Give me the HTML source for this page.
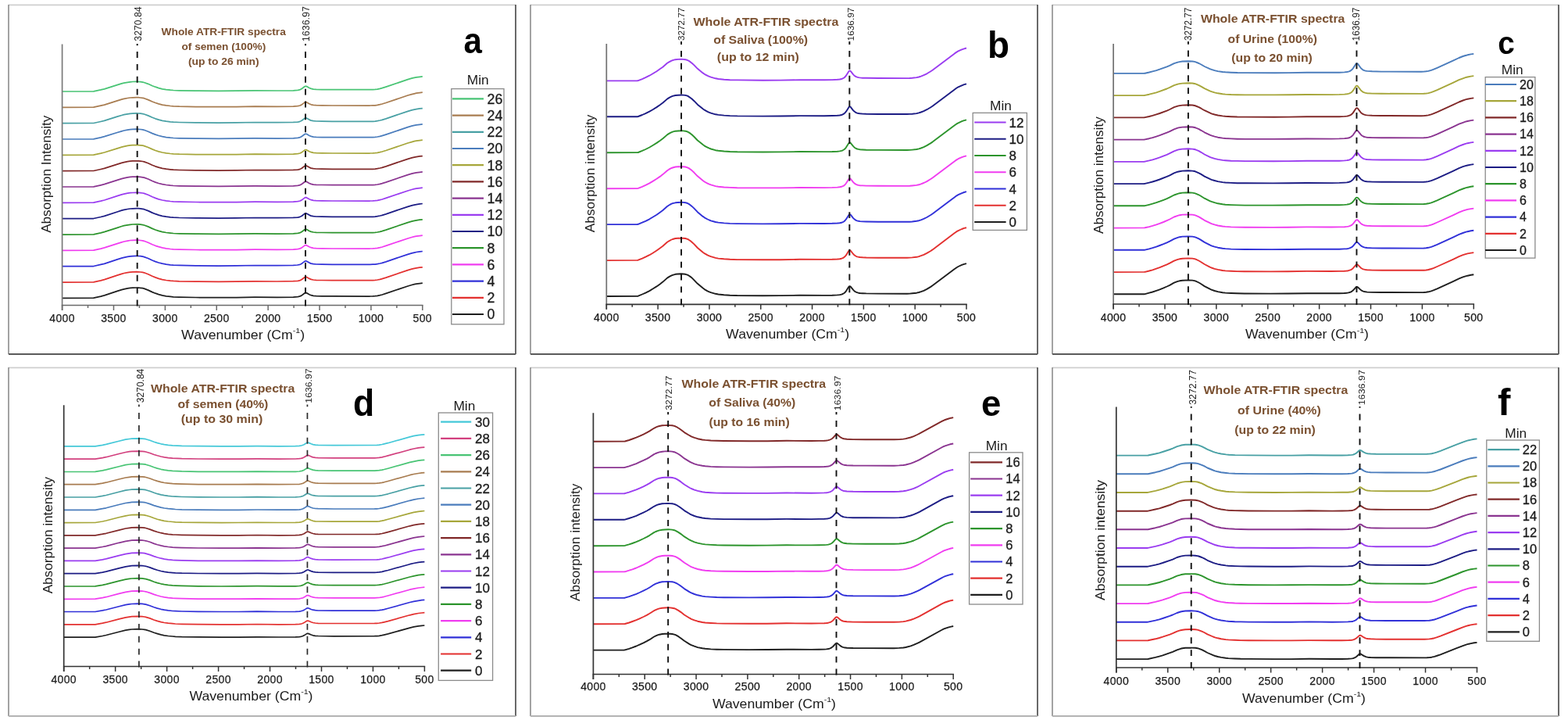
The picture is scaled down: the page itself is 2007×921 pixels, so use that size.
<!DOCTYPE html>
<html><head><meta charset="utf-8"><title>ATR-FTIR spectra</title>
<style>html,body{margin:0;padding:0;background:#fff;}svg{display:block;filter:blur(0.3px);}</style></head>
<body>
<svg width="2007" height="921" viewBox="0 0 2007 921" font-family="&quot;Liberation Sans&quot;, Arial, sans-serif">
<rect width="2007" height="921" fill="#fff"/>
<line x1="11" y1="6.3" x2="660" y2="6.3" stroke="#cfcfcf" stroke-width="1.8"/>
<line x1="11" y1="6" x2="11" y2="453" stroke="#8c8c8c" stroke-width="1.6"/>
<line x1="660" y1="6" x2="660" y2="453" stroke="#585858" stroke-width="1.8"/>
<line x1="11" y1="453" x2="660" y2="453" stroke="#5a5a5a" stroke-width="1.8"/>
<path d="M79.6,381.3 119.8,381.1 129.0,379.1 133.6,377.9 150.1,372.4 155.7,370.6 158.7,369.8 163.3,368.9 166.6,368.4 169.9,368.1 174.8,368.0 177.1,368.0 179.7,368.3 182.7,368.7 184.4,369.1 189.6,371.1 194.9,373.6 198.9,375.2 203.1,376.6 207.7,377.9 212.7,378.8 218.0,379.4 221.9,379.8 229.5,380.1 250.6,380.5 279.6,380.6 302.6,380.5 326.3,380.2 354.7,380.3 375.4,380.1 380.7,379.7 382.3,379.4 384.0,378.9 385.3,378.4 386.6,377.6 389.9,375.0 390.6,374.7 391.2,374.6 391.9,374.6 392.6,374.8 395.9,376.8 398.2,377.7 401.1,378.4 404.7,378.7 412.0,378.9 425.2,378.9 473.6,379.0 477.2,378.9 480.2,378.7 483.1,378.3 486.4,377.7 489.1,377.0 494.0,375.4 522.0,366.0 527.0,364.5 530.3,363.7 532.9,363.2 537.2,362.6 540.8,362.2" fill="none" stroke="#1e1e1e" stroke-width="1.75" stroke-linejoin="round"/>
<path d="M79.6,361.0 119.8,360.8 129.0,358.8 133.6,357.6 150.1,352.1 155.7,350.4 158.7,349.5 163.3,348.6 166.6,348.1 169.9,347.9 174.8,347.7 177.1,347.8 179.7,348.0 182.7,348.4 184.4,348.8 189.6,350.8 194.9,353.3 198.9,354.9 203.1,356.3 207.7,357.6 212.7,358.5 218.0,359.1 221.9,359.4 229.5,359.8 250.6,360.2 279.9,360.3 302.6,360.2 326.3,359.8 354.7,360.0 375.4,359.7 380.7,359.4 382.3,359.1 384.0,358.6 385.3,358.1 386.6,357.3 389.9,354.7 390.6,354.4 391.2,354.2 391.9,354.3 392.6,354.5 395.9,356.4 398.2,357.4 401.1,358.0 404.7,358.3 412.0,358.5 425.2,358.6 473.6,358.7 477.2,358.6 480.2,358.4 483.1,358.0 486.4,357.3 489.1,356.6 494.0,355.1 522.0,345.6 527.0,344.2 530.3,343.4 532.9,342.9 537.2,342.2 540.8,341.9" fill="none" stroke="#e3302f" stroke-width="1.75" stroke-linejoin="round"/>
<path d="M79.6,340.6 119.8,340.5 129.0,338.4 133.6,337.3 150.1,331.8 155.7,330.1 158.7,329.3 163.3,328.3 166.6,327.8 169.9,327.6 174.8,327.4 177.1,327.5 179.7,327.7 182.7,328.2 184.4,328.6 189.6,330.5 194.9,333.0 198.9,334.6 203.1,336.0 207.7,337.2 212.7,338.1 218.0,338.8 221.9,339.1 229.5,339.4 250.6,339.9 279.9,340.0 302.6,339.9 326.3,339.5 354.7,339.7 375.4,339.4 380.7,339.0 382.3,338.7 384.0,338.3 385.3,337.7 386.6,336.9 389.9,334.4 390.6,334.0 391.2,333.9 391.9,334.0 392.6,334.2 395.9,336.1 398.2,337.1 401.1,337.7 404.7,338.0 412.0,338.2 425.2,338.3 473.6,338.3 477.2,338.2 480.2,338.1 483.1,337.7 486.4,337.0 489.1,336.3 494.0,334.8 522.0,325.3 527.0,323.9 530.3,323.1 532.9,322.5 537.2,321.9 540.8,321.5" fill="none" stroke="#3030d8" stroke-width="1.75" stroke-linejoin="round"/>
<path d="M79.6,320.3 119.8,320.1 129.0,318.1 133.6,316.9 150.1,311.6 155.7,309.8 158.7,309.0 163.3,308.1 166.6,307.5 169.9,307.3 174.8,307.2 177.1,307.2 179.7,307.5 182.7,307.9 184.4,308.3 189.6,310.2 194.9,312.7 198.9,314.3 203.1,315.7 207.7,316.9 212.7,317.8 218.0,318.5 221.9,318.8 229.5,319.1 250.6,319.5 279.9,319.6 302.6,319.5 326.3,319.2 354.7,319.3 375.4,319.1 380.7,318.7 382.3,318.4 384.0,317.9 385.3,317.4 386.6,316.6 389.9,314.1 390.6,313.7 391.2,313.6 391.9,313.6 392.6,313.9 395.9,315.8 398.2,316.7 401.1,317.4 404.7,317.7 412.0,317.9 425.2,318.0 473.6,318.0 477.2,317.9 480.2,317.7 483.1,317.4 486.4,316.7 489.1,316.0 494.0,314.4 522.0,305.0 527.0,303.5 530.3,302.7 532.9,302.2 537.2,301.6 540.8,301.2" fill="none" stroke="#f03cf0" stroke-width="1.75" stroke-linejoin="round"/>
<path d="M79.6,300.0 119.8,299.8 129.0,297.8 133.6,296.6 150.1,291.3 155.7,289.5 158.7,288.7 163.3,287.8 166.6,287.3 169.9,287.0 174.8,286.9 177.1,286.9 179.7,287.2 182.7,287.6 184.4,288.0 189.6,289.9 194.9,292.4 198.9,294.0 203.1,295.4 207.7,296.6 212.7,297.5 218.0,298.1 221.9,298.5 229.5,298.8 250.6,299.2 279.9,299.3 302.6,299.2 326.3,298.9 354.7,299.0 375.4,298.8 380.7,298.4 382.3,298.1 384.0,297.6 385.3,297.1 386.6,296.3 389.9,293.7 390.6,293.4 391.2,293.2 391.9,293.3 392.6,293.5 395.9,295.5 398.2,296.4 401.1,297.0 404.7,297.4 412.0,297.5 425.2,297.6 473.6,297.7 477.2,297.6 480.2,297.4 483.1,297.0 486.4,296.3 489.1,295.6 494.0,294.1 522.0,284.6 527.0,283.2 530.3,282.4 532.9,281.9 537.2,281.2 540.8,280.9" fill="none" stroke="#2c942c" stroke-width="1.75" stroke-linejoin="round"/>
<path d="M79.6,279.6 119.8,279.5 129.0,277.5 133.6,276.3 150.1,271.0 155.7,269.2 158.7,268.4 163.3,267.5 166.6,267.0 169.9,266.8 174.8,266.6 177.1,266.7 179.7,266.9 182.7,267.3 184.4,267.7 189.6,269.6 194.9,272.1 198.9,273.7 203.1,275.1 207.7,276.3 212.7,277.2 218.0,277.8 221.9,278.1 229.5,278.5 250.6,278.9 279.9,279.0 302.6,278.9 326.3,278.5 354.7,278.7 375.4,278.4 380.7,278.1 382.3,277.8 384.0,277.3 385.3,276.7 386.6,276.0 389.9,273.4 390.6,273.1 391.2,272.9 391.9,273.0 392.6,273.2 395.9,275.1 398.2,276.1 401.1,276.7 404.7,277.0 412.0,277.2 425.2,277.3 473.6,277.3 477.2,277.3 480.2,277.1 483.1,276.7 486.4,276.0 489.1,275.3 494.0,273.8 522.0,264.3 527.0,262.9 530.3,262.1 532.9,261.6 537.2,260.9 540.8,260.5" fill="none" stroke="#1c1c84" stroke-width="1.75" stroke-linejoin="round"/>
<path d="M79.6,259.3 119.8,259.1 129.0,257.2 133.6,256.0 150.1,250.7 155.7,248.9 158.7,248.1 163.3,247.2 166.6,246.7 169.9,246.5 174.8,246.3 177.1,246.4 179.7,246.6 182.7,247.0 184.4,247.4 189.6,249.3 194.9,251.8 198.9,253.4 203.1,254.8 207.7,256.0 212.7,256.8 218.0,257.5 221.9,257.8 229.5,258.1 250.6,258.5 279.9,258.6 302.6,258.5 326.3,258.2 354.7,258.3 375.4,258.1 380.7,257.7 382.3,257.4 384.0,257.0 385.3,256.4 386.6,255.6 389.9,253.1 390.6,252.7 391.2,252.6 391.9,252.6 392.6,252.9 395.9,254.8 398.2,255.7 401.1,256.4 404.7,256.7 412.0,256.9 425.2,257.0 473.6,257.0 477.2,256.9 480.2,256.7 483.1,256.4 486.4,255.7 489.1,255.0 494.0,253.4 522.0,244.0 527.0,242.5 530.3,241.7 532.9,241.2 537.2,240.6 540.8,240.2" fill="none" stroke="#9a3cf0" stroke-width="1.75" stroke-linejoin="round"/>
<path d="M79.6,239.0 119.8,238.8 129.0,236.8 133.6,235.7 150.1,230.4 155.7,228.6 158.7,227.8 163.3,226.9 166.6,226.4 169.9,226.2 174.8,226.1 177.1,226.1 179.7,226.4 182.7,226.8 184.4,227.1 189.6,229.0 194.9,231.5 198.9,233.1 203.1,234.5 207.7,235.7 212.7,236.5 218.0,237.2 221.9,237.5 229.5,237.8 250.6,238.2 279.9,238.3 302.6,238.2 326.3,237.9 354.7,238.0 375.4,237.8 380.7,237.4 382.3,237.1 384.0,236.6 385.3,236.1 386.6,235.3 389.9,232.7 390.6,232.4 391.2,232.2 391.9,232.3 392.6,232.5 395.9,234.5 398.2,235.4 401.1,236.1 404.7,236.4 412.0,236.5 425.2,236.6 473.6,236.7 477.2,236.6 480.2,236.4 483.1,236.0 486.4,235.3 489.1,234.6 494.0,233.1 522.0,223.6 527.0,222.2 530.3,221.4 532.9,220.9 537.2,220.3 540.8,219.9" fill="none" stroke="#8a3490" stroke-width="1.75" stroke-linejoin="round"/>
<path d="M79.6,218.7 119.8,218.5 129.0,216.5 133.6,215.4 150.1,210.1 155.7,208.3 158.7,207.6 163.3,206.7 166.6,206.2 169.9,205.9 174.8,205.8 177.1,205.8 179.7,206.1 182.7,206.5 184.4,206.9 189.6,208.8 194.9,211.2 198.9,212.8 203.1,214.1 207.7,215.3 212.7,216.2 218.0,216.8 221.9,217.2 229.5,217.5 250.6,217.9 279.9,218.0 302.6,217.9 326.3,217.5 354.7,217.7 375.4,217.4 380.7,217.1 382.3,216.8 384.0,216.3 385.3,215.7 386.6,215.0 389.9,212.4 390.6,212.1 391.2,211.9 391.9,212.0 392.6,212.2 395.9,214.1 398.2,215.1 401.1,215.7 404.7,216.0 412.0,216.2 425.2,216.3 473.6,216.4 477.2,216.3 480.2,216.1 483.1,215.7 486.4,215.0 489.1,214.3 494.0,212.8 522.0,203.3 527.0,201.9 530.3,201.1 532.9,200.6 537.2,199.9 540.8,199.6" fill="none" stroke="#802828" stroke-width="1.75" stroke-linejoin="round"/>
<path d="M79.6,198.3 119.8,198.1 129.0,196.2 133.6,195.0 150.1,189.8 155.7,188.1 158.7,187.3 163.3,186.4 166.6,185.9 169.9,185.6 174.8,185.5 177.1,185.6 179.7,185.8 182.7,186.2 184.4,186.6 189.6,188.5 194.9,190.9 198.9,192.5 203.1,193.8 207.7,195.0 212.7,195.9 218.0,196.5 221.9,196.8 229.5,197.2 250.6,197.6 279.9,197.6 302.6,197.6 326.3,197.2 354.7,197.4 375.4,197.1 380.7,196.7 382.3,196.4 384.0,196.0 385.3,195.4 386.6,194.6 389.9,192.1 390.6,191.7 391.2,191.6 391.9,191.6 392.6,191.9 395.9,193.8 398.2,194.7 401.1,195.4 404.7,195.7 412.0,195.9 425.2,196.0 473.6,196.0 477.2,195.9 480.2,195.7 483.1,195.4 486.4,194.7 489.1,194.0 494.0,192.5 522.0,183.0 527.0,181.6 530.3,180.7 532.9,180.2 537.2,179.6 540.8,179.2" fill="none" stroke="#a6a63a" stroke-width="1.75" stroke-linejoin="round"/>
<path d="M79.6,178.0 119.8,177.8 129.0,175.9 133.6,174.7 150.1,169.5 155.7,167.8 158.7,167.0 163.3,166.1 166.6,165.6 169.9,165.4 174.8,165.2 177.1,165.3 179.7,165.5 182.7,165.9 184.4,166.3 189.6,168.2 194.9,170.6 198.9,172.1 203.1,173.5 207.7,174.7 212.7,175.6 218.0,176.2 221.9,176.5 229.5,176.8 250.6,177.2 279.9,177.3 302.6,177.2 326.3,176.9 354.7,177.0 375.4,176.8 380.7,176.4 382.3,176.1 384.0,175.6 385.3,175.1 386.6,174.3 389.9,171.7 390.6,171.4 391.2,171.3 391.9,171.3 392.6,171.5 395.9,173.5 398.2,174.4 401.1,175.1 404.7,175.4 412.0,175.6 425.2,175.6 473.6,175.7 477.2,175.6 480.2,175.4 483.1,175.0 486.4,174.4 489.1,173.7 494.0,172.1 522.0,162.7 527.0,161.2 530.3,160.4 532.9,159.9 537.2,159.3 540.8,158.9" fill="none" stroke="#4a7cbc" stroke-width="1.75" stroke-linejoin="round"/>
<path d="M79.6,157.7 119.8,157.5 129.0,155.5 133.6,154.4 150.1,149.2 155.7,147.5 158.7,146.7 163.3,145.8 166.6,145.3 169.9,145.1 174.8,144.9 177.1,145.0 179.7,145.2 182.7,145.6 184.4,146.0 189.6,147.9 194.9,150.3 198.9,151.8 203.1,153.2 207.7,154.4 212.7,155.2 218.0,155.9 221.9,156.2 229.5,156.5 250.6,156.9 279.9,157.0 302.6,156.9 326.3,156.5 354.7,156.7 375.4,156.4 380.7,156.1 382.3,155.8 384.0,155.3 385.3,154.8 386.6,154.0 389.9,151.4 390.6,151.1 391.2,150.9 391.9,151.0 392.6,151.2 395.9,153.1 398.2,154.1 401.1,154.7 404.7,155.0 412.0,155.2 425.2,155.3 473.6,155.4 477.2,155.3 480.2,155.1 483.1,154.7 486.4,154.0 489.1,153.3 494.0,151.8 522.0,142.3 527.0,140.9 530.3,140.1 532.9,139.6 537.2,138.9 540.8,138.6" fill="none" stroke="#48a0a4" stroke-width="1.75" stroke-linejoin="round"/>
<path d="M79.6,137.3 119.8,137.2 129.0,135.2 133.6,134.1 150.1,128.9 155.7,127.2 158.7,126.4 163.3,125.5 166.6,125.0 169.9,124.8 174.8,124.7 177.1,124.7 179.7,125.0 182.7,125.4 184.4,125.7 189.6,127.6 194.9,130.0 198.9,131.5 203.1,132.9 207.7,134.1 212.7,134.9 218.0,135.5 221.9,135.8 229.5,136.2 250.6,136.6 279.9,136.7 302.6,136.6 326.3,136.2 354.7,136.4 375.4,136.1 380.7,135.7 382.3,135.4 384.0,135.0 385.3,134.4 386.6,133.6 389.9,131.1 390.6,130.7 391.2,130.6 391.9,130.7 392.6,130.9 395.9,132.8 398.2,133.8 401.1,134.4 404.7,134.7 412.0,134.9 425.2,135.0 473.6,135.0 477.2,134.9 480.2,134.8 483.1,134.4 486.4,133.7 489.1,133.0 494.0,131.5 522.0,122.0 527.0,120.6 530.3,119.8 532.9,119.2 537.2,118.6 540.8,118.2" fill="none" stroke="#a87c50" stroke-width="1.75" stroke-linejoin="round"/>
<path d="M79.6,117.0 119.8,116.8 129.0,114.9 133.6,113.8 150.1,108.6 155.7,106.9 158.7,106.1 163.3,105.3 166.6,104.8 169.9,104.5 174.8,104.4 177.1,104.5 179.7,104.7 182.7,105.1 184.4,105.5 189.6,107.3 194.9,109.7 198.9,111.2 203.1,112.6 207.7,113.8 212.7,114.6 218.0,115.2 221.9,115.5 229.5,115.8 250.6,116.2 279.9,116.3 302.6,116.2 326.3,115.9 354.7,116.0 375.4,115.8 380.7,115.4 382.3,115.1 384.0,114.6 385.3,114.1 386.6,113.3 389.9,110.8 390.6,110.4 391.2,110.3 391.9,110.3 392.6,110.6 395.9,112.5 398.2,113.4 401.1,114.1 404.7,114.4 412.0,114.6 425.2,114.7 473.6,114.7 477.2,114.6 480.2,114.4 483.1,114.1 486.4,113.4 489.1,112.7 494.0,111.1 522.0,101.7 527.0,100.2 530.3,99.4 532.9,98.9 537.2,98.3 540.8,97.9" fill="none" stroke="#48c474" stroke-width="1.75" stroke-linejoin="round"/>
<line x1="79.6" y1="56.5" x2="79.6" y2="397" stroke="#7a7a7a" stroke-width="1.7"/>
<line x1="78.8" y1="390.5" x2="541.6" y2="390.5" stroke="#6a6a6a" stroke-width="1.7"/>
<line x1="79.6" y1="390.5" x2="79.6" y2="397" stroke="#6a6a6a" stroke-width="1.5"/>
<line x1="112.54" y1="390.5" x2="112.54" y2="394" stroke="#6a6a6a" stroke-width="1.5"/>
<line x1="145.49" y1="390.5" x2="145.49" y2="397" stroke="#6a6a6a" stroke-width="1.5"/>
<line x1="178.43" y1="390.5" x2="178.43" y2="394" stroke="#6a6a6a" stroke-width="1.5"/>
<line x1="211.37" y1="390.5" x2="211.37" y2="397" stroke="#6a6a6a" stroke-width="1.5"/>
<line x1="244.31" y1="390.5" x2="244.31" y2="394" stroke="#6a6a6a" stroke-width="1.5"/>
<line x1="277.26" y1="390.5" x2="277.26" y2="397" stroke="#6a6a6a" stroke-width="1.5"/>
<line x1="310.2" y1="390.5" x2="310.2" y2="394" stroke="#6a6a6a" stroke-width="1.5"/>
<line x1="343.14" y1="390.5" x2="343.14" y2="397" stroke="#6a6a6a" stroke-width="1.5"/>
<line x1="376.09" y1="390.5" x2="376.09" y2="394" stroke="#6a6a6a" stroke-width="1.5"/>
<line x1="409.03" y1="390.5" x2="409.03" y2="397" stroke="#6a6a6a" stroke-width="1.5"/>
<line x1="441.97" y1="390.5" x2="441.97" y2="394" stroke="#6a6a6a" stroke-width="1.5"/>
<line x1="474.91" y1="390.5" x2="474.91" y2="397" stroke="#6a6a6a" stroke-width="1.5"/>
<line x1="507.86" y1="390.5" x2="507.86" y2="394" stroke="#6a6a6a" stroke-width="1.5"/>
<line x1="540.8" y1="390.5" x2="540.8" y2="397" stroke="#6a6a6a" stroke-width="1.5"/>
<text x="79.6" y="412.3" font-size="14" text-anchor="middle" letter-spacing="0.35" fill="#1a1a1a" stroke="#1a1a1a" stroke-width="0.25">4000</text>
<text x="145.49" y="412.3" font-size="14" text-anchor="middle" letter-spacing="0.35" fill="#1a1a1a" stroke="#1a1a1a" stroke-width="0.25">3500</text>
<text x="211.37" y="412.3" font-size="14" text-anchor="middle" letter-spacing="0.35" fill="#1a1a1a" stroke="#1a1a1a" stroke-width="0.25">3000</text>
<text x="277.26" y="412.3" font-size="14" text-anchor="middle" letter-spacing="0.35" fill="#1a1a1a" stroke="#1a1a1a" stroke-width="0.25">2500</text>
<text x="343.14" y="412.3" font-size="14" text-anchor="middle" letter-spacing="0.35" fill="#1a1a1a" stroke="#1a1a1a" stroke-width="0.25">2000</text>
<text x="409.03" y="412.3" font-size="14" text-anchor="middle" letter-spacing="0.35" fill="#1a1a1a" stroke="#1a1a1a" stroke-width="0.25">1500</text>
<text x="474.91" y="412.3" font-size="14" text-anchor="middle" letter-spacing="0.35" fill="#1a1a1a" stroke="#1a1a1a" stroke-width="0.25">1000</text>
<text x="540.8" y="412.3" font-size="14" text-anchor="middle" letter-spacing="0.35" fill="#1a1a1a" stroke="#1a1a1a" stroke-width="0.25">500</text>
<text transform="translate(232.1,434.2) scale(1.078,1)" font-size="16.4" fill="#1a1a1a">Wavenumber (Cm<tspan font-size="9.84" dy="-7.8">-1</tspan><tspan dy="7.8">)</tspan></text>
<text transform="translate(65.3,297.83) rotate(-90) scale(1.0064,1)" font-size="17" fill="#1a1a1a">Absorption Intensity</text>
<line x1="175.68" y1="391.4" x2="175.68" y2="56" stroke="#111" stroke-width="1.9" stroke-dasharray="7.9 7.97"/>
<text transform="translate(181.04,52.67) rotate(-90) scale(1.0217,1.1299)" font-size="12" fill="#222">3270.84</text>
<line x1="390.98" y1="391.4" x2="390.98" y2="56" stroke="#111" stroke-width="1.9" stroke-dasharray="7.9 7.97"/>
<text transform="translate(395.93,53.15) rotate(-90) scale(1.0390,1.0593)" font-size="12" fill="#222">1636.97</text>
<text transform="translate(206.59,44.6) scale(1.0549,1.0000)" font-size="13" font-weight="bold" fill="#7a5030">Whole ATR-FTIR spectra</text>
<text transform="translate(232.47,64.1) scale(1.0509,1.0000)" font-size="13" font-weight="bold" fill="#7a5030">of semen (100%)</text>
<text transform="translate(240.91,83) scale(1.0654,1.0000)" font-size="13" font-weight="bold" fill="#7a5030">(up to 26 min)</text>
<text transform="translate(593.58,68.24) scale(0.9136,0.9997)" font-size="46" font-weight="bold" fill="#000">a</text>
<rect x="577.8" y="113.6" width="67.2" height="301.2" fill="#fff" stroke="#8a8a8a" stroke-width="1.3"/>
<text x="611.8" y="107.8" font-size="17.3" text-anchor="middle" fill="#1a1a1a">Min</text>
<line x1="579" y1="126.4" x2="619" y2="126.4" stroke="#48c474" stroke-width="2.2"/>
<text x="623.5" y="132.81" font-size="17.8" fill="#1a1a1a" stroke="#1a1a1a" stroke-width="0.3">26</text>
<line x1="579" y1="147.6" x2="619" y2="147.6" stroke="#a87c50" stroke-width="2.2"/>
<text x="623.5" y="154.01" font-size="17.8" fill="#1a1a1a" stroke="#1a1a1a" stroke-width="0.3">24</text>
<line x1="579" y1="168.8" x2="619" y2="168.8" stroke="#48a0a4" stroke-width="2.2"/>
<text x="623.5" y="175.21" font-size="17.8" fill="#1a1a1a" stroke="#1a1a1a" stroke-width="0.3">22</text>
<line x1="579" y1="190" x2="619" y2="190" stroke="#4a7cbc" stroke-width="2.2"/>
<text x="623.5" y="196.41" font-size="17.8" fill="#1a1a1a" stroke="#1a1a1a" stroke-width="0.3">20</text>
<line x1="579" y1="211.2" x2="619" y2="211.2" stroke="#a6a63a" stroke-width="2.2"/>
<text x="623.5" y="217.61" font-size="17.8" fill="#1a1a1a" stroke="#1a1a1a" stroke-width="0.3">18</text>
<line x1="579" y1="232.4" x2="619" y2="232.4" stroke="#802828" stroke-width="2.2"/>
<text x="623.5" y="238.81" font-size="17.8" fill="#1a1a1a" stroke="#1a1a1a" stroke-width="0.3">16</text>
<line x1="579" y1="253.6" x2="619" y2="253.6" stroke="#8a3490" stroke-width="2.2"/>
<text x="623.5" y="260.01" font-size="17.8" fill="#1a1a1a" stroke="#1a1a1a" stroke-width="0.3">14</text>
<line x1="579" y1="274.8" x2="619" y2="274.8" stroke="#9a3cf0" stroke-width="2.2"/>
<text x="623.5" y="281.21" font-size="17.8" fill="#1a1a1a" stroke="#1a1a1a" stroke-width="0.3">12</text>
<line x1="579" y1="296" x2="619" y2="296" stroke="#1c1c84" stroke-width="2.2"/>
<text x="623.5" y="302.41" font-size="17.8" fill="#1a1a1a" stroke="#1a1a1a" stroke-width="0.3">10</text>
<line x1="579" y1="317.2" x2="619" y2="317.2" stroke="#2c942c" stroke-width="2.2"/>
<text x="623.5" y="323.61" font-size="17.8" fill="#1a1a1a" stroke="#1a1a1a" stroke-width="0.3">8</text>
<line x1="579" y1="338.4" x2="619" y2="338.4" stroke="#f03cf0" stroke-width="2.2"/>
<text x="623.5" y="344.81" font-size="17.8" fill="#1a1a1a" stroke="#1a1a1a" stroke-width="0.3">6</text>
<line x1="579" y1="359.6" x2="619" y2="359.6" stroke="#3030d8" stroke-width="2.2"/>
<text x="623.5" y="366.01" font-size="17.8" fill="#1a1a1a" stroke="#1a1a1a" stroke-width="0.3">4</text>
<line x1="579" y1="380.8" x2="619" y2="380.8" stroke="#e3302f" stroke-width="2.2"/>
<text x="623.5" y="387.21" font-size="17.8" fill="#1a1a1a" stroke="#1a1a1a" stroke-width="0.3">2</text>
<line x1="579" y1="402" x2="619" y2="402" stroke="#1e1e1e" stroke-width="2.2"/>
<text x="623.5" y="408.41" font-size="17.8" fill="#1a1a1a" stroke="#1a1a1a" stroke-width="0.3">0</text>
<line x1="679" y1="6.3" x2="1328" y2="6.3" stroke="#cfcfcf" stroke-width="1.8"/>
<line x1="679" y1="6" x2="679" y2="453" stroke="#8c8c8c" stroke-width="1.6"/>
<line x1="1328" y1="6" x2="1328" y2="453" stroke="#585858" stroke-width="1.8"/>
<line x1="679" y1="453" x2="1328" y2="453" stroke="#5a5a5a" stroke-width="1.8"/>
<path d="M776.3,379.0 815.8,378.9 816.8,378.7 822.0,376.5 826.3,374.6 831.3,372.1 835.5,369.5 840.5,366.4 844.7,363.4 848.4,360.6 854.0,355.6 856.3,354.1 858.6,352.8 860.9,351.8 864.5,350.8 867.8,350.5 872.1,350.3 874.7,350.5 877.3,350.8 880.0,351.6 881.6,352.5 883.9,354.1 885.6,355.4 888.5,358.3 892.8,362.8 899.7,368.6 901.7,370.1 905.6,372.3 907.9,373.3 909.9,374.1 915.8,375.8 919.4,376.5 926.7,377.2 934.3,377.7 943.5,378.0 976.4,378.2 998.8,378.1 1023.8,377.8 1054.4,377.9 1065.2,377.7 1071.8,377.4 1074.8,377.1 1077.1,376.6 1078.7,376.0 1080.4,375.0 1081.7,373.9 1083.0,372.3 1086.3,367.1 1086.9,366.4 1087.6,366.1 1088.3,366.3 1088.9,366.8 1092.2,370.9 1093.2,371.9 1094.5,373.0 1095.8,373.7 1097.1,374.2 1098.8,374.7 1100.8,375.0 1104.1,375.2 1108.7,375.4 1124.1,375.6 1161.0,375.7 1164.3,375.6 1167.6,375.3 1173.2,374.7 1176.1,374.0 1178.8,373.2 1182.4,371.8 1186.3,369.9 1190.9,367.1 1193.6,365.3 1221.9,344.0 1224.5,342.2 1226.5,341.0 1231.1,338.9 1234.0,337.9 1237.0,337.1" fill="none" stroke="#1e1e1e" stroke-width="1.9" stroke-linejoin="round"/>
<path d="M776.3,333.1 815.8,332.9 816.8,332.7 822.0,330.6 826.3,328.7 831.3,326.2 835.5,323.7 840.5,320.5 844.7,317.5 848.4,314.8 854.0,309.8 856.3,308.3 858.6,307.0 860.9,306.0 864.5,305.0 867.8,304.7 872.1,304.6 874.7,304.7 877.3,305.0 880.0,305.8 881.6,306.7 883.9,308.3 885.6,309.7 888.5,312.4 892.8,317.0 899.7,322.8 901.7,324.2 905.6,326.4 907.9,327.4 909.9,328.2 915.8,329.9 919.4,330.6 926.7,331.3 934.3,331.8 943.5,332.1 976.4,332.3 998.8,332.2 1023.8,331.8 1054.4,331.9 1065.2,331.8 1071.8,331.5 1074.8,331.2 1077.1,330.7 1078.7,330.1 1080.4,329.1 1081.7,328.0 1083.0,326.4 1086.3,321.1 1086.9,320.5 1087.6,320.2 1088.3,320.3 1088.9,320.9 1092.2,325.0 1093.2,326.0 1094.5,327.0 1095.8,327.8 1097.1,328.3 1098.8,328.7 1100.8,329.0 1104.1,329.3 1108.7,329.5 1124.1,329.7 1161.0,329.7 1164.3,329.6 1167.6,329.4 1173.2,328.8 1176.1,328.1 1178.8,327.2 1182.4,325.9 1186.3,323.9 1190.9,321.2 1193.6,319.4 1221.9,298.1 1224.5,296.2 1226.5,295.1 1231.1,293.0 1234.0,291.9 1237.0,291.2" fill="none" stroke="#e3302f" stroke-width="1.9" stroke-linejoin="round"/>
<path d="M776.3,287.1 815.8,287.0 816.8,286.8 822.0,284.7 826.3,282.8 831.3,280.3 835.5,277.8 840.5,274.7 844.7,271.7 848.4,269.0 854.0,264.0 856.3,262.5 858.6,261.2 860.9,260.2 864.5,259.3 867.8,259.0 872.1,258.8 874.7,258.9 877.3,259.2 880.0,260.0 881.6,260.9 883.9,262.5 885.6,263.9 888.5,266.6 892.8,271.2 899.7,276.9 901.7,278.3 905.6,280.5 907.9,281.5 909.9,282.3 915.8,284.0 919.4,284.6 926.7,285.4 934.3,285.9 943.5,286.1 976.4,286.4 998.8,286.3 1023.8,285.9 1054.4,286.0 1065.2,285.8 1071.8,285.5 1074.8,285.2 1077.1,284.8 1078.7,284.2 1080.4,283.2 1081.7,282.0 1083.0,280.4 1086.3,275.2 1086.9,274.5 1087.6,274.2 1088.3,274.4 1088.9,274.9 1092.2,279.1 1093.2,280.1 1094.5,281.1 1095.8,281.9 1097.1,282.4 1098.8,282.8 1100.8,283.1 1104.1,283.4 1108.7,283.5 1124.1,283.7 1161.0,283.8 1164.3,283.7 1167.6,283.5 1173.2,282.8 1176.1,282.2 1178.8,281.3 1182.4,279.9 1186.3,278.0 1190.9,275.3 1193.6,273.5 1221.9,252.2 1224.5,250.3 1226.5,249.2 1231.1,247.1 1234.0,246.0 1237.0,245.2" fill="none" stroke="#3030d8" stroke-width="1.9" stroke-linejoin="round"/>
<path d="M776.3,241.2 815.8,241.1 816.8,240.9 822.0,238.8 826.3,236.9 831.3,234.4 835.5,231.9 840.5,228.8 844.7,225.9 848.4,223.1 854.0,218.2 856.3,216.7 858.6,215.4 860.9,214.5 864.5,213.5 867.8,213.2 872.1,213.1 874.7,213.2 877.3,213.5 880.0,214.3 881.6,215.1 883.9,216.7 885.6,218.1 888.5,220.8 892.8,225.3 899.7,231.0 901.7,232.5 905.6,234.6 907.9,235.6 909.9,236.4 915.8,238.1 919.4,238.7 926.7,239.5 934.3,239.9 943.5,240.2 976.4,240.4 998.8,240.4 1023.8,240.0 1054.4,240.1 1065.2,239.9 1071.8,239.6 1074.8,239.3 1077.1,238.8 1078.7,238.2 1080.4,237.3 1081.7,236.1 1083.0,234.5 1086.3,229.3 1086.9,228.6 1087.6,228.3 1088.3,228.5 1088.9,229.0 1092.2,233.2 1093.2,234.1 1094.5,235.2 1095.8,235.9 1097.1,236.5 1098.8,236.9 1100.8,237.2 1104.1,237.4 1108.7,237.6 1124.1,237.8 1161.0,237.9 1164.3,237.8 1167.6,237.5 1173.2,236.9 1176.1,236.3 1178.8,235.4 1182.4,234.0 1186.3,232.1 1190.9,229.3 1193.6,227.5 1221.9,206.2 1224.5,204.4 1226.5,203.2 1231.1,201.1 1234.0,200.1 1237.0,199.3" fill="none" stroke="#f03cf0" stroke-width="1.9" stroke-linejoin="round"/>
<path d="M776.3,195.3 815.8,195.1 816.8,195.0 822.0,192.9 826.3,191.0 831.3,188.5 835.5,186.0 840.5,182.9 844.7,180.0 848.4,177.3 854.0,172.4 856.3,170.9 858.6,169.6 860.9,168.7 864.5,167.7 867.8,167.5 872.1,167.3 874.7,167.4 877.3,167.7 880.0,168.5 881.6,169.4 883.9,170.9 885.6,172.3 888.5,175.0 892.8,179.5 899.7,185.1 901.7,186.6 905.6,188.7 907.9,189.7 909.9,190.5 915.8,192.2 919.4,192.8 926.7,193.5 934.3,194.0 943.8,194.3 976.7,194.5 999.1,194.4 1023.8,194.0 1054.7,194.1 1065.2,194.0 1071.8,193.7 1074.8,193.4 1077.1,192.9 1078.7,192.3 1080.4,191.3 1081.7,190.2 1083.0,188.6 1086.3,183.3 1086.9,182.7 1087.6,182.4 1088.3,182.5 1088.9,183.1 1092.2,187.2 1093.2,188.2 1094.5,189.2 1095.8,190.0 1097.1,190.5 1098.8,190.9 1100.8,191.3 1104.1,191.5 1108.7,191.7 1124.1,191.9 1161.0,192.0 1164.3,191.9 1167.6,191.6 1173.2,191.0 1176.1,190.3 1178.8,189.5 1182.4,188.1 1186.3,186.1 1190.9,183.4 1193.6,181.6 1221.9,160.3 1224.5,158.4 1226.5,157.3 1231.1,155.2 1234.0,154.1 1237.0,153.4" fill="none" stroke="#2c942c" stroke-width="1.9" stroke-linejoin="round"/>
<path d="M776.3,149.3 815.8,149.2 816.8,149.0 822.0,147.0 826.3,145.1 831.3,142.6 835.5,140.2 840.5,137.1 844.7,134.2 848.4,131.5 854.0,126.6 856.3,125.1 858.6,123.9 860.9,122.9 864.5,122.0 867.8,121.7 872.1,121.5 874.7,121.6 877.3,121.9 880.0,122.7 881.6,123.6 883.9,125.2 885.6,126.5 888.5,129.2 892.8,133.7 899.7,139.3 901.7,140.7 905.6,142.8 907.9,143.8 909.9,144.6 915.8,146.3 919.4,146.9 926.7,147.6 934.3,148.1 943.8,148.4 976.7,148.6 999.1,148.5 1023.8,148.1 1054.7,148.2 1065.2,148.0 1071.8,147.8 1074.8,147.5 1077.1,147.0 1078.7,146.4 1080.4,145.4 1081.7,144.2 1083.0,142.7 1086.3,137.4 1086.9,136.7 1087.6,136.5 1088.3,136.6 1088.9,137.1 1092.2,141.3 1093.2,142.3 1094.5,143.3 1095.8,144.1 1097.1,144.6 1098.8,145.0 1100.8,145.3 1104.1,145.6 1108.7,145.8 1124.1,146.0 1161.0,146.0 1164.3,145.9 1167.6,145.7 1173.2,145.1 1176.1,144.4 1178.8,143.5 1182.4,142.1 1186.3,140.2 1190.9,137.5 1193.6,135.7 1221.9,114.4 1224.5,112.5 1226.5,111.4 1231.1,109.3 1234.0,108.2 1237.0,107.4" fill="none" stroke="#1c1c84" stroke-width="1.9" stroke-linejoin="round"/>
<path d="M776.3,103.4 815.8,103.3 816.8,103.1 822.0,101.1 826.3,99.2 831.3,96.7 835.5,94.3 840.5,91.2 844.7,88.3 848.4,85.7 854.0,80.8 856.3,79.4 858.6,78.1 860.9,77.1 864.5,76.2 867.8,75.9 872.1,75.8 874.7,75.9 877.3,76.2 880.0,77.0 881.6,77.8 883.9,79.4 885.6,80.7 888.5,83.4 892.8,87.8 899.7,93.4 901.7,94.8 905.6,96.9 907.9,97.9 909.9,98.7 915.8,100.3 919.4,101.0 926.7,101.7 934.3,102.2 943.8,102.4 976.7,102.7 999.1,102.6 1023.8,102.2 1054.7,102.3 1065.2,102.1 1071.8,101.8 1074.8,101.5 1077.1,101.0 1078.7,100.4 1080.4,99.5 1081.7,98.3 1083.0,96.7 1086.3,91.5 1086.9,90.8 1087.6,90.5 1088.3,90.7 1088.9,91.2 1092.2,95.4 1093.2,96.4 1094.5,97.4 1095.8,98.1 1097.1,98.7 1098.8,99.1 1100.8,99.4 1104.1,99.7 1108.7,99.8 1124.1,100.0 1161.0,100.1 1164.3,100.0 1167.6,99.8 1173.2,99.1 1176.1,98.5 1178.8,97.6 1182.4,96.2 1186.3,94.3 1190.9,91.5 1193.6,89.7 1221.9,68.4 1224.5,66.6 1226.5,65.4 1231.1,63.3 1234.0,62.3 1237.0,61.5" fill="none" stroke="#9a3cf0" stroke-width="1.9" stroke-linejoin="round"/>
<line x1="776.3" y1="56" x2="776.3" y2="395.8" stroke="#707070" stroke-width="1.7"/>
<line x1="775.5" y1="389.3" x2="1237.8" y2="389.3" stroke="#333" stroke-width="1.7"/>
<line x1="776.3" y1="389.3" x2="776.3" y2="395.8" stroke="#333" stroke-width="1.5"/>
<line x1="809.21" y1="389.3" x2="809.21" y2="392.8" stroke="#333" stroke-width="1.5"/>
<line x1="842.11" y1="389.3" x2="842.11" y2="395.8" stroke="#333" stroke-width="1.5"/>
<line x1="875.02" y1="389.3" x2="875.02" y2="392.8" stroke="#333" stroke-width="1.5"/>
<line x1="907.93" y1="389.3" x2="907.93" y2="395.8" stroke="#333" stroke-width="1.5"/>
<line x1="940.84" y1="389.3" x2="940.84" y2="392.8" stroke="#333" stroke-width="1.5"/>
<line x1="973.74" y1="389.3" x2="973.74" y2="395.8" stroke="#333" stroke-width="1.5"/>
<line x1="1006.65" y1="389.3" x2="1006.65" y2="392.8" stroke="#333" stroke-width="1.5"/>
<line x1="1039.56" y1="389.3" x2="1039.56" y2="395.8" stroke="#333" stroke-width="1.5"/>
<line x1="1072.46" y1="389.3" x2="1072.46" y2="392.8" stroke="#333" stroke-width="1.5"/>
<line x1="1105.37" y1="389.3" x2="1105.37" y2="395.8" stroke="#333" stroke-width="1.5"/>
<line x1="1138.28" y1="389.3" x2="1138.28" y2="392.8" stroke="#333" stroke-width="1.5"/>
<line x1="1171.19" y1="389.3" x2="1171.19" y2="395.8" stroke="#333" stroke-width="1.5"/>
<line x1="1204.09" y1="389.3" x2="1204.09" y2="392.8" stroke="#333" stroke-width="1.5"/>
<line x1="1237" y1="389.3" x2="1237" y2="395.8" stroke="#333" stroke-width="1.5"/>
<text x="776.3" y="410.9" font-size="14" text-anchor="middle" letter-spacing="0.35" fill="#1a1a1a" stroke="#1a1a1a" stroke-width="0.25">4000</text>
<text x="842.11" y="410.9" font-size="14" text-anchor="middle" letter-spacing="0.35" fill="#1a1a1a" stroke="#1a1a1a" stroke-width="0.25">3500</text>
<text x="907.93" y="410.9" font-size="14" text-anchor="middle" letter-spacing="0.35" fill="#1a1a1a" stroke="#1a1a1a" stroke-width="0.25">3000</text>
<text x="973.74" y="410.9" font-size="14" text-anchor="middle" letter-spacing="0.35" fill="#1a1a1a" stroke="#1a1a1a" stroke-width="0.25">2500</text>
<text x="1039.56" y="410.9" font-size="14" text-anchor="middle" letter-spacing="0.35" fill="#1a1a1a" stroke="#1a1a1a" stroke-width="0.25">2000</text>
<text x="1105.37" y="410.9" font-size="14" text-anchor="middle" letter-spacing="0.35" fill="#1a1a1a" stroke="#1a1a1a" stroke-width="0.25">1500</text>
<text x="1171.19" y="410.9" font-size="14" text-anchor="middle" letter-spacing="0.35" fill="#1a1a1a" stroke="#1a1a1a" stroke-width="0.25">1000</text>
<text x="1237" y="410.9" font-size="14" text-anchor="middle" letter-spacing="0.35" fill="#1a1a1a" stroke="#1a1a1a" stroke-width="0.25">500</text>
<text transform="translate(929.1,433.1) scale(1.078,1)" font-size="16.4" fill="#1a1a1a">Wavenumber (Cm<tspan font-size="9.84" dy="-7.8">-1</tspan><tspan dy="7.8">)</tspan></text>
<text transform="translate(761.3,297.13) rotate(-90) scale(1.0149,1)" font-size="17" fill="#1a1a1a">Absorption intensity</text>
<line x1="872.02" y1="390.2" x2="872.02" y2="53" stroke="#111" stroke-width="1.9" stroke-dasharray="7.9 7.97"/>
<text transform="translate(875.61,51.94) rotate(-90) scale(0.9758,0.9063)" font-size="12" fill="#222">3272.77</text>
<line x1="1087.34" y1="390.2" x2="1087.34" y2="53" stroke="#111" stroke-width="1.9" stroke-dasharray="7.9 7.97"/>
<text transform="translate(1092.71,52.4) rotate(-90) scale(0.9864,0.9181)" font-size="12" fill="#222">1636.97</text>
<text transform="translate(887.48,32.9) scale(1.0466,1.0000)" font-size="15.3" font-weight="bold" fill="#7a5030">Whole ATR-FTIR spectra</text>
<text transform="translate(913.18,56.2) scale(1.0388,1.0000)" font-size="15.3" font-weight="bold" fill="#7a5030">of Saliva (100%)</text>
<text transform="translate(917.8,77.6) scale(1.0470,1.0000)" font-size="15.3" font-weight="bold" fill="#7a5030">(up to 12 min)</text>
<text transform="translate(1263.88,74.22) scale(0.9964,1.0411)" font-size="46" font-weight="bold" fill="#000">b</text>
<rect x="1245.2" y="144.4" width="69.2" height="150" fill="#fff" stroke="#8a8a8a" stroke-width="1.3"/>
<text x="1281" y="141.1" font-size="17.3" text-anchor="middle" fill="#1a1a1a">Min</text>
<line x1="1247.2" y1="156.5" x2="1287.6" y2="156.5" stroke="#9a3cf0" stroke-width="2.2"/>
<text x="1291.5" y="162.62" font-size="17" fill="#1a1a1a" stroke="#1a1a1a" stroke-width="0.3">12</text>
<line x1="1247.2" y1="177.75" x2="1287.6" y2="177.75" stroke="#1c1c84" stroke-width="2.2"/>
<text x="1291.5" y="183.87" font-size="17" fill="#1a1a1a" stroke="#1a1a1a" stroke-width="0.3">10</text>
<line x1="1247.2" y1="199" x2="1287.6" y2="199" stroke="#2c942c" stroke-width="2.2"/>
<text x="1291.5" y="205.12" font-size="17" fill="#1a1a1a" stroke="#1a1a1a" stroke-width="0.3">8</text>
<line x1="1247.2" y1="220.25" x2="1287.6" y2="220.25" stroke="#f03cf0" stroke-width="2.2"/>
<text x="1291.5" y="226.37" font-size="17" fill="#1a1a1a" stroke="#1a1a1a" stroke-width="0.3">6</text>
<line x1="1247.2" y1="241.5" x2="1287.6" y2="241.5" stroke="#3030d8" stroke-width="2.2"/>
<text x="1291.5" y="247.62" font-size="17" fill="#1a1a1a" stroke="#1a1a1a" stroke-width="0.3">4</text>
<line x1="1247.2" y1="262.75" x2="1287.6" y2="262.75" stroke="#e3302f" stroke-width="2.2"/>
<text x="1291.5" y="268.87" font-size="17" fill="#1a1a1a" stroke="#1a1a1a" stroke-width="0.3">2</text>
<line x1="1247.2" y1="284" x2="1287.6" y2="284" stroke="#1e1e1e" stroke-width="2.2"/>
<text x="1291.5" y="290.12" font-size="17" fill="#1a1a1a" stroke="#1a1a1a" stroke-width="0.3">0</text>
<line x1="1347" y1="6.3" x2="1995" y2="6.3" stroke="#cfcfcf" stroke-width="1.8"/>
<line x1="1347" y1="6" x2="1347" y2="453" stroke="#8c8c8c" stroke-width="1.6"/>
<line x1="1995" y1="6" x2="1995" y2="453" stroke="#585858" stroke-width="1.8"/>
<line x1="1347" y1="453" x2="1995" y2="453" stroke="#5a5a5a" stroke-width="1.8"/>
<path d="M1425.1,376.3 1464.6,376.2 1465.6,376.1 1470.9,374.7 1475.2,373.5 1480.1,371.9 1484.4,370.4 1489.3,368.4 1493.6,366.5 1497.2,364.8 1502.8,361.7 1507.5,359.9 1509.8,359.3 1513.4,358.7 1521.0,358.4 1526.2,358.6 1528.9,359.1 1530.5,359.7 1534.5,361.5 1537.4,363.3 1541.7,366.1 1548.6,369.7 1550.6,370.6 1554.6,372.0 1558.8,373.1 1564.8,374.2 1568.4,374.6 1575.6,375.0 1583.2,375.3 1592.8,375.5 1626.4,375.6 1648.5,375.5 1672.8,375.2 1704.1,375.3 1714.0,375.2 1720.6,375.0 1723.6,374.8 1725.9,374.4 1727.5,374.0 1729.2,373.4 1730.5,372.6 1731.8,371.6 1735.4,367.6 1736.1,367.1 1736.7,366.9 1737.4,367.1 1738.1,367.5 1741.4,370.6 1742.3,371.3 1743.7,372.1 1745.0,372.6 1746.3,373.0 1749.9,373.6 1756.5,373.9 1769.0,374.0 1819.1,374.1 1822.4,374.0 1825.4,373.8 1828.3,373.3 1831.9,372.3 1834.6,371.3 1839.5,369.3 1860.3,359.8 1867.5,356.4 1872.5,354.4 1875.8,353.4 1878.4,352.7 1882.7,351.8 1886.3,351.3" fill="none" stroke="#1e1e1e" stroke-width="1.9" stroke-linejoin="round"/>
<path d="M1425.1,348.1 1464.6,347.9 1465.6,347.8 1470.9,346.5 1475.2,345.3 1480.1,343.7 1484.4,342.2 1489.3,340.2 1493.6,338.4 1497.2,336.7 1502.8,333.6 1507.5,331.9 1509.8,331.3 1513.4,330.7 1521.0,330.4 1526.2,330.6 1528.9,331.1 1530.5,331.7 1534.5,333.5 1537.4,335.2 1541.7,338.0 1548.6,341.6 1550.6,342.5 1554.6,343.8 1558.8,344.9 1564.8,346.0 1568.4,346.4 1575.6,346.8 1583.2,347.1 1592.8,347.3 1626.7,347.4 1648.5,347.3 1672.8,346.9 1704.1,347.0 1714.0,346.9 1720.6,346.7 1723.6,346.5 1725.9,346.2 1727.5,345.7 1729.2,345.1 1730.5,344.3 1731.8,343.2 1735.4,339.0 1736.1,338.5 1736.7,338.3 1737.4,338.5 1738.1,338.9 1741.4,342.2 1742.3,343.0 1743.7,343.8 1745.0,344.3 1746.3,344.7 1747.9,345.1 1749.9,345.3 1756.5,345.6 1768.7,345.8 1819.1,345.8 1822.4,345.7 1825.4,345.5 1828.3,345.0 1831.9,344.0 1834.6,343.1 1839.5,341.0 1860.3,331.6 1867.5,328.1 1872.5,326.2 1875.8,325.1 1878.4,324.4 1882.7,323.6 1886.3,323.1" fill="none" stroke="#e3302f" stroke-width="1.9" stroke-linejoin="round"/>
<path d="M1425.1,319.8 1464.6,319.7 1465.6,319.6 1470.9,318.3 1475.2,317.1 1480.1,315.6 1484.4,314.0 1489.3,312.1 1493.6,310.3 1497.2,308.6 1502.8,305.6 1507.5,303.8 1509.8,303.2 1513.4,302.6 1521.0,302.4 1526.2,302.6 1528.9,303.1 1530.5,303.6 1534.5,305.4 1537.4,307.1 1541.7,309.9 1548.6,313.4 1550.6,314.3 1554.6,315.6 1558.8,316.7 1564.8,317.7 1568.4,318.1 1575.6,318.6 1583.6,318.9 1593.1,319.0 1627.7,319.1 1648.8,319.0 1672.5,318.7 1704.5,318.8 1714.3,318.7 1720.9,318.4 1723.9,318.2 1725.9,317.9 1727.5,317.4 1729.2,316.7 1730.5,315.9 1731.8,314.8 1735.4,310.4 1736.1,309.9 1736.7,309.7 1737.4,309.9 1738.1,310.4 1741.4,313.8 1742.3,314.6 1743.7,315.4 1745.0,316.0 1746.3,316.4 1747.9,316.8 1749.9,317.0 1756.5,317.4 1768.7,317.5 1819.1,317.6 1822.4,317.5 1825.4,317.3 1828.3,316.8 1831.9,315.8 1834.6,314.8 1839.5,312.8 1860.3,303.3 1867.5,299.9 1872.5,298.0 1875.8,296.9 1878.4,296.2 1882.7,295.3 1886.3,294.8" fill="none" stroke="#3030d8" stroke-width="1.9" stroke-linejoin="round"/>
<path d="M1425.1,291.6 1464.6,291.4 1465.6,291.3 1470.9,290.1 1475.2,288.9 1480.1,287.4 1484.4,285.9 1489.3,284.0 1493.6,282.2 1497.2,280.5 1502.8,277.5 1507.5,275.8 1509.8,275.2 1513.4,274.6 1521.0,274.4 1526.2,274.6 1528.9,275.1 1530.5,275.6 1534.5,277.4 1537.4,279.1 1541.7,281.8 1548.6,285.2 1550.6,286.1 1554.6,287.4 1558.8,288.5 1564.8,289.5 1568.4,289.9 1575.6,290.4 1583.6,290.6 1593.4,290.8 1628.4,290.9 1648.8,290.8 1672.5,290.4 1704.1,290.5 1714.3,290.4 1720.9,290.2 1723.9,289.9 1725.9,289.6 1727.5,289.1 1729.2,288.4 1730.5,287.6 1731.8,286.4 1735.4,281.9 1736.1,281.4 1736.7,281.2 1737.4,281.3 1738.1,281.8 1741.4,285.4 1742.3,286.2 1743.7,287.1 1745.0,287.7 1746.3,288.2 1747.9,288.5 1749.9,288.8 1756.5,289.1 1768.7,289.3 1819.1,289.4 1822.4,289.3 1825.4,289.0 1828.3,288.6 1831.9,287.6 1834.6,286.6 1839.5,284.5 1860.3,275.1 1867.5,271.7 1872.5,269.7 1875.8,268.6 1878.4,267.9 1882.7,267.1 1886.3,266.6" fill="none" stroke="#f03cf0" stroke-width="1.9" stroke-linejoin="round"/>
<path d="M1425.1,263.3 1464.6,263.2 1465.6,263.1 1470.9,261.8 1475.2,260.7 1480.1,259.2 1484.4,257.7 1489.3,255.8 1493.6,254.1 1497.2,252.4 1502.8,249.5 1507.5,247.8 1509.8,247.2 1513.4,246.6 1521.0,246.3 1526.2,246.6 1528.9,247.1 1530.5,247.6 1534.5,249.3 1537.4,251.0 1541.7,253.7 1548.6,257.1 1550.6,257.9 1554.6,259.2 1558.8,260.3 1564.8,261.3 1568.4,261.7 1575.6,262.1 1583.6,262.4 1593.4,262.6 1628.7,262.6 1649.1,262.5 1672.5,262.2 1704.1,262.3 1714.3,262.2 1720.9,261.9 1723.9,261.6 1725.9,261.3 1727.5,260.8 1729.2,260.1 1730.5,259.2 1731.8,258.0 1735.4,253.3 1736.1,252.8 1736.7,252.6 1737.4,252.8 1738.1,253.2 1741.4,257.0 1742.3,257.8 1743.7,258.7 1745.0,259.4 1746.3,259.9 1747.9,260.2 1749.9,260.5 1756.5,260.9 1768.4,261.0 1819.1,261.1 1822.4,261.0 1825.4,260.8 1828.3,260.3 1831.9,259.3 1834.6,258.4 1839.5,256.3 1860.3,246.8 1867.5,243.4 1872.5,241.5 1875.8,240.4 1878.4,239.7 1882.7,238.8 1886.3,238.3" fill="none" stroke="#2c942c" stroke-width="1.9" stroke-linejoin="round"/>
<path d="M1425.1,235.1 1464.6,235.0 1465.6,234.9 1470.9,233.6 1475.2,232.5 1480.1,231.0 1484.4,229.5 1493.6,225.9 1497.2,224.3 1502.8,221.4 1507.5,219.7 1509.8,219.2 1513.4,218.6 1521.0,218.3 1526.2,218.6 1528.9,219.0 1530.5,219.6 1534.5,221.3 1537.4,222.9 1541.7,225.6 1548.6,228.9 1550.6,229.8 1554.6,231.0 1558.8,232.1 1564.8,233.1 1568.4,233.5 1575.6,233.9 1583.6,234.2 1593.8,234.3 1629.3,234.4 1649.1,234.3 1672.5,234.0 1704.1,234.1 1714.3,233.9 1720.9,233.6 1723.9,233.4 1725.9,233.0 1727.5,232.5 1729.2,231.8 1730.5,230.8 1731.8,229.6 1735.4,224.7 1736.1,224.2 1736.7,224.0 1737.4,224.2 1738.1,224.7 1741.4,228.6 1742.3,229.5 1743.7,230.4 1745.0,231.1 1746.3,231.6 1747.9,232.0 1749.9,232.2 1756.5,232.6 1768.4,232.8 1819.1,232.9 1822.4,232.8 1825.4,232.5 1828.3,232.1 1831.9,231.1 1834.6,230.1 1839.5,228.1 1860.3,218.6 1867.5,215.2 1872.5,213.2 1875.8,212.2 1878.4,211.5 1882.7,210.6 1886.3,210.1" fill="none" stroke="#1c1c84" stroke-width="1.9" stroke-linejoin="round"/>
<path d="M1425.1,206.9 1464.6,206.7 1465.6,206.6 1470.9,205.4 1475.2,204.3 1480.1,202.8 1484.4,201.4 1493.6,197.8 1497.2,196.2 1502.8,193.3 1507.5,191.7 1509.8,191.1 1513.4,190.6 1521.0,190.3 1526.2,190.6 1528.9,191.0 1530.5,191.5 1534.5,193.2 1537.4,194.8 1541.7,197.5 1548.6,200.8 1550.6,201.6 1554.6,202.9 1558.8,203.9 1564.8,204.9 1568.4,205.2 1575.6,205.7 1583.6,205.9 1593.8,206.1 1630.0,206.2 1649.4,206.1 1672.5,205.7 1704.1,205.8 1714.3,205.7 1720.9,205.4 1723.9,205.1 1725.9,204.8 1727.5,204.3 1729.2,203.4 1730.5,202.5 1731.8,201.2 1735.4,196.2 1736.1,195.6 1736.7,195.4 1737.4,195.6 1738.1,196.1 1741.4,200.2 1742.3,201.1 1743.7,202.1 1745.0,202.8 1746.3,203.3 1747.9,203.7 1749.9,204.0 1756.5,204.4 1768.4,204.5 1819.1,204.6 1822.4,204.5 1825.4,204.3 1828.3,203.8 1831.9,202.8 1834.6,201.9 1839.5,199.8 1860.3,190.4 1867.5,186.9 1872.5,185.0 1875.8,183.9 1878.4,183.2 1882.7,182.4 1886.3,181.9" fill="none" stroke="#9a3cf0" stroke-width="1.9" stroke-linejoin="round"/>
<path d="M1425.1,178.6 1464.6,178.5 1465.6,178.4 1470.9,177.2 1475.2,176.1 1480.1,174.6 1484.4,173.2 1493.6,169.7 1497.2,168.1 1502.8,165.3 1507.5,163.7 1509.8,163.1 1513.4,162.6 1521.0,162.3 1526.2,162.5 1528.9,163.0 1530.5,163.5 1534.5,165.2 1537.4,166.8 1541.7,169.3 1548.6,172.6 1550.6,173.4 1554.6,174.7 1558.8,175.7 1564.8,176.6 1568.4,177.0 1575.6,177.4 1583.6,177.7 1594.1,177.9 1630.3,177.9 1649.4,177.8 1672.5,177.5 1704.1,177.6 1714.3,177.4 1720.9,177.1 1723.9,176.8 1725.9,176.5 1727.5,176.0 1729.2,175.1 1730.5,174.1 1731.8,172.8 1735.4,167.6 1736.1,167.0 1736.7,166.8 1737.4,167.0 1738.1,167.6 1741.4,171.7 1742.3,172.7 1743.7,173.7 1745.0,174.5 1746.3,175.0 1747.9,175.4 1749.9,175.7 1756.5,176.1 1768.4,176.3 1819.1,176.4 1822.4,176.3 1825.4,176.1 1828.3,175.6 1831.9,174.6 1834.6,173.6 1839.5,171.6 1860.3,162.1 1867.5,158.7 1872.5,156.8 1875.8,155.7 1878.4,155.0 1882.7,154.1 1886.3,153.6" fill="none" stroke="#8a3490" stroke-width="1.9" stroke-linejoin="round"/>
<path d="M1425.1,150.4 1464.6,150.2 1465.6,150.1 1470.9,149.0 1475.2,147.9 1480.1,146.4 1484.4,145.0 1493.6,141.6 1497.2,140.0 1502.8,137.2 1507.5,135.7 1509.8,135.1 1513.4,134.6 1521.0,134.3 1526.2,134.5 1528.9,135.0 1530.5,135.5 1534.5,137.1 1537.4,138.7 1541.7,141.2 1548.6,144.4 1550.6,145.3 1554.6,146.5 1558.8,147.5 1564.8,148.4 1568.4,148.8 1575.6,149.2 1583.6,149.5 1594.1,149.6 1631.0,149.7 1649.4,149.6 1672.5,149.2 1704.1,149.3 1714.3,149.2 1720.9,148.9 1723.9,148.6 1725.9,148.2 1727.5,147.7 1729.2,146.8 1730.5,145.8 1731.8,144.4 1735.4,139.0 1736.1,138.4 1736.7,138.2 1737.4,138.4 1738.1,139.0 1741.4,143.3 1742.3,144.4 1743.7,145.4 1745.0,146.2 1746.3,146.7 1747.9,147.1 1749.9,147.4 1756.2,147.8 1768.0,148.0 1819.1,148.2 1822.4,148.1 1825.4,147.8 1828.3,147.4 1831.9,146.4 1834.6,145.4 1839.5,143.3 1860.3,133.9 1867.5,130.5 1872.5,128.5 1875.8,127.4 1878.4,126.7 1882.7,125.9 1886.3,125.4" fill="none" stroke="#802828" stroke-width="1.9" stroke-linejoin="round"/>
<path d="M1425.1,122.1 1464.6,122.0 1465.6,121.9 1470.9,120.7 1475.2,119.6 1480.1,118.3 1484.4,116.9 1493.6,113.5 1497.2,111.9 1502.8,109.2 1507.5,107.6 1509.8,107.1 1513.4,106.6 1521.0,106.3 1526.2,106.5 1528.9,107.0 1530.5,107.4 1534.5,109.1 1537.4,110.6 1541.7,113.1 1548.6,116.3 1550.6,117.1 1554.6,118.3 1558.8,119.3 1564.8,120.2 1568.4,120.6 1575.6,121.0 1583.6,121.2 1594.1,121.4 1631.3,121.4 1649.8,121.3 1672.5,121.0 1704.1,121.1 1714.3,120.9 1720.9,120.6 1723.9,120.3 1725.9,119.9 1727.5,119.4 1729.2,118.5 1730.5,117.4 1731.8,116.0 1735.4,110.5 1736.1,109.8 1736.7,109.6 1737.4,109.9 1738.1,110.5 1741.4,114.9 1742.3,116.0 1743.7,117.1 1745.0,117.9 1746.3,118.4 1747.9,118.9 1749.9,119.2 1756.2,119.6 1768.0,119.8 1819.1,119.9 1822.4,119.8 1825.4,119.6 1828.3,119.1 1831.9,118.1 1834.6,117.2 1839.5,115.1 1860.3,105.6 1867.5,102.2 1872.5,100.3 1875.8,99.2 1878.4,98.5 1882.7,97.6 1886.3,97.1" fill="none" stroke="#a6a63a" stroke-width="1.9" stroke-linejoin="round"/>
<path d="M1425.1,93.9 1464.6,93.8 1465.6,93.7 1470.9,92.5 1475.2,91.4 1480.1,90.1 1484.4,88.7 1493.6,85.4 1497.2,83.9 1502.8,81.1 1507.5,79.6 1509.8,79.1 1513.4,78.5 1521.0,78.3 1526.2,78.5 1528.9,78.9 1530.5,79.4 1534.5,81.0 1537.4,82.5 1541.7,85.0 1548.6,88.1 1550.6,88.9 1554.6,90.1 1558.8,91.1 1564.8,92.0 1568.4,92.3 1575.6,92.7 1583.9,93.0 1594.4,93.1 1632.0,93.2 1649.8,93.1 1672.5,92.7 1704.1,92.8 1714.3,92.7 1720.9,92.4 1723.9,92.0 1725.9,91.6 1727.5,91.1 1729.2,90.1 1730.5,89.0 1731.8,87.6 1735.4,81.9 1736.1,81.3 1736.7,81.0 1737.4,81.3 1738.1,81.9 1741.4,86.5 1742.3,87.6 1743.7,88.7 1745.0,89.6 1746.3,90.1 1747.9,90.6 1749.9,90.9 1756.2,91.3 1768.0,91.6 1819.1,91.7 1822.4,91.6 1825.4,91.3 1828.3,90.9 1831.9,89.9 1834.6,88.9 1839.5,86.8 1860.3,77.4 1867.5,74.0 1872.5,72.0 1875.8,71.0 1878.4,70.3 1882.7,69.4 1886.3,68.9" fill="none" stroke="#4a7cbc" stroke-width="1.9" stroke-linejoin="round"/>
<line x1="1425.1" y1="56" x2="1425.1" y2="395.5" stroke="#707070" stroke-width="1.7"/>
<line x1="1424.3" y1="389" x2="1887.1" y2="389" stroke="#333" stroke-width="1.7"/>
<line x1="1425.1" y1="389" x2="1425.1" y2="395.5" stroke="#333" stroke-width="1.5"/>
<line x1="1458.04" y1="389" x2="1458.04" y2="392.5" stroke="#333" stroke-width="1.5"/>
<line x1="1490.99" y1="389" x2="1490.99" y2="395.5" stroke="#333" stroke-width="1.5"/>
<line x1="1523.93" y1="389" x2="1523.93" y2="392.5" stroke="#333" stroke-width="1.5"/>
<line x1="1556.87" y1="389" x2="1556.87" y2="395.5" stroke="#333" stroke-width="1.5"/>
<line x1="1589.81" y1="389" x2="1589.81" y2="392.5" stroke="#333" stroke-width="1.5"/>
<line x1="1622.76" y1="389" x2="1622.76" y2="395.5" stroke="#333" stroke-width="1.5"/>
<line x1="1655.7" y1="389" x2="1655.7" y2="392.5" stroke="#333" stroke-width="1.5"/>
<line x1="1688.64" y1="389" x2="1688.64" y2="395.5" stroke="#333" stroke-width="1.5"/>
<line x1="1721.59" y1="389" x2="1721.59" y2="392.5" stroke="#333" stroke-width="1.5"/>
<line x1="1754.53" y1="389" x2="1754.53" y2="395.5" stroke="#333" stroke-width="1.5"/>
<line x1="1787.47" y1="389" x2="1787.47" y2="392.5" stroke="#333" stroke-width="1.5"/>
<line x1="1820.41" y1="389" x2="1820.41" y2="395.5" stroke="#333" stroke-width="1.5"/>
<line x1="1853.36" y1="389" x2="1853.36" y2="392.5" stroke="#333" stroke-width="1.5"/>
<line x1="1886.3" y1="389" x2="1886.3" y2="395.5" stroke="#333" stroke-width="1.5"/>
<text x="1425.1" y="411.2" font-size="14" text-anchor="middle" letter-spacing="0.35" fill="#1a1a1a" stroke="#1a1a1a" stroke-width="0.25">4000</text>
<text x="1490.99" y="411.2" font-size="14" text-anchor="middle" letter-spacing="0.35" fill="#1a1a1a" stroke="#1a1a1a" stroke-width="0.25">3500</text>
<text x="1556.87" y="411.2" font-size="14" text-anchor="middle" letter-spacing="0.35" fill="#1a1a1a" stroke="#1a1a1a" stroke-width="0.25">3000</text>
<text x="1622.76" y="411.2" font-size="14" text-anchor="middle" letter-spacing="0.35" fill="#1a1a1a" stroke="#1a1a1a" stroke-width="0.25">2500</text>
<text x="1688.64" y="411.2" font-size="14" text-anchor="middle" letter-spacing="0.35" fill="#1a1a1a" stroke="#1a1a1a" stroke-width="0.25">2000</text>
<text x="1754.53" y="411.2" font-size="14" text-anchor="middle" letter-spacing="0.35" fill="#1a1a1a" stroke="#1a1a1a" stroke-width="0.25">1500</text>
<text x="1820.41" y="411.2" font-size="14" text-anchor="middle" letter-spacing="0.35" fill="#1a1a1a" stroke="#1a1a1a" stroke-width="0.25">1000</text>
<text x="1886.3" y="411.2" font-size="14" text-anchor="middle" letter-spacing="0.35" fill="#1a1a1a" stroke="#1a1a1a" stroke-width="0.25">500</text>
<text transform="translate(1593.9,433.4) scale(1.078,1)" font-size="16.4" fill="#1a1a1a">Wavenumber (Cm<tspan font-size="9.84" dy="-7.8">-1</tspan><tspan dy="7.8">)</tspan></text>
<text transform="translate(1411.9,299.03) rotate(-90) scale(1.0102,1)" font-size="17" fill="#1a1a1a">Absorption intensity</text>
<line x1="1520.93" y1="389.9" x2="1520.93" y2="53" stroke="#111" stroke-width="1.9" stroke-dasharray="7.9 7.97"/>
<text transform="translate(1525.13,51.94) rotate(-90) scale(0.9758,1.0593)" font-size="12" fill="#222">3272.77</text>
<line x1="1736.48" y1="389.9" x2="1736.48" y2="53" stroke="#111" stroke-width="1.9" stroke-dasharray="7.9 7.97"/>
<text transform="translate(1740.33,52.4) rotate(-90) scale(0.9864,1.0593)" font-size="12" fill="#222">1636.97</text>
<text transform="translate(1536.88,29.3) scale(1.0398,1.0000)" font-size="15.3" font-weight="bold" fill="#7a5030">Whole ATR-FTIR spectra</text>
<text transform="translate(1571.59,55) scale(1.0272,1.0000)" font-size="15.3" font-weight="bold" fill="#7a5030">of Urine (100%)</text>
<text transform="translate(1576.21,79) scale(1.0348,1.0000)" font-size="15.3" font-weight="bold" fill="#7a5030">(up to 20 min)</text>
<text transform="translate(1917.19,69.29) scale(0.8419,0.9005)" font-size="46" font-weight="bold" fill="#000">c</text>
<rect x="1901.2" y="98.6" width="63.7" height="231.5" fill="#fff" stroke="#8a8a8a" stroke-width="1.3"/>
<text x="1935.8" y="95" font-size="17.3" text-anchor="middle" fill="#1a1a1a">Min</text>
<line x1="1901" y1="108" x2="1941" y2="108" stroke="#4a7cbc" stroke-width="2.2"/>
<text x="1945" y="113.76" font-size="16" fill="#1a1a1a" stroke="#1a1a1a" stroke-width="0.3">20</text>
<line x1="1901" y1="129.2" x2="1941" y2="129.2" stroke="#a6a63a" stroke-width="2.2"/>
<text x="1945" y="134.96" font-size="16" fill="#1a1a1a" stroke="#1a1a1a" stroke-width="0.3">18</text>
<line x1="1901" y1="150.4" x2="1941" y2="150.4" stroke="#802828" stroke-width="2.2"/>
<text x="1945" y="156.16" font-size="16" fill="#1a1a1a" stroke="#1a1a1a" stroke-width="0.3">16</text>
<line x1="1901" y1="171.6" x2="1941" y2="171.6" stroke="#8a3490" stroke-width="2.2"/>
<text x="1945" y="177.36" font-size="16" fill="#1a1a1a" stroke="#1a1a1a" stroke-width="0.3">14</text>
<line x1="1901" y1="192.8" x2="1941" y2="192.8" stroke="#9a3cf0" stroke-width="2.2"/>
<text x="1945" y="198.56" font-size="16" fill="#1a1a1a" stroke="#1a1a1a" stroke-width="0.3">12</text>
<line x1="1901" y1="214" x2="1941" y2="214" stroke="#1c1c84" stroke-width="2.2"/>
<text x="1945" y="219.76" font-size="16" fill="#1a1a1a" stroke="#1a1a1a" stroke-width="0.3">10</text>
<line x1="1901" y1="235.2" x2="1941" y2="235.2" stroke="#2c942c" stroke-width="2.2"/>
<text x="1945" y="240.96" font-size="16" fill="#1a1a1a" stroke="#1a1a1a" stroke-width="0.3">8</text>
<line x1="1901" y1="256.4" x2="1941" y2="256.4" stroke="#f03cf0" stroke-width="2.2"/>
<text x="1945" y="262.16" font-size="16" fill="#1a1a1a" stroke="#1a1a1a" stroke-width="0.3">6</text>
<line x1="1901" y1="277.6" x2="1941" y2="277.6" stroke="#3030d8" stroke-width="2.2"/>
<text x="1945" y="283.36" font-size="16" fill="#1a1a1a" stroke="#1a1a1a" stroke-width="0.3">4</text>
<line x1="1901" y1="298.8" x2="1941" y2="298.8" stroke="#e3302f" stroke-width="2.2"/>
<text x="1945" y="304.56" font-size="16" fill="#1a1a1a" stroke="#1a1a1a" stroke-width="0.3">2</text>
<line x1="1901" y1="320" x2="1941" y2="320" stroke="#1e1e1e" stroke-width="2.2"/>
<text x="1945" y="325.76" font-size="16" fill="#1a1a1a" stroke="#1a1a1a" stroke-width="0.3">0</text>
<line x1="11" y1="470.3" x2="660" y2="470.3" stroke="#cfcfcf" stroke-width="1.8"/>
<line x1="11" y1="470" x2="11" y2="916" stroke="#8c8c8c" stroke-width="1.6"/>
<line x1="660" y1="470" x2="660" y2="916" stroke="#585858" stroke-width="1.8"/>
<line x1="11" y1="916" x2="660" y2="916" stroke="#b4b4b4" stroke-width="1.8"/>
<path d="M81.7,815.1 121.9,815.1 131.2,813.5 135.8,812.5 152.3,808.2 160.8,806.1 165.5,805.4 168.8,805.0 177.0,804.7 182.0,805.0 184.9,805.3 186.6,805.6 191.8,807.2 197.1,809.3 201.4,810.6 206.0,811.9 210.3,812.8 215.3,813.5 220.9,814.0 224.5,814.3 232.7,814.6 253.8,814.9 283.2,815.1 305.3,815.1 329.0,814.8 356.7,815.0 378.2,814.9 383.1,814.6 384.8,814.4 386.4,814.0 387.7,813.5 389.1,812.9 392.7,810.6 393.3,810.4 394.0,810.3 395.0,810.6 398.3,812.0 400.6,812.8 403.6,813.3 407.2,813.5 427.3,813.8 479.4,813.7 482.4,813.6 485.4,813.3 489.0,812.7 491.6,812.1 496.6,810.9 524.6,803.1 529.5,801.9 535.5,800.8 539.8,800.3 543.4,800.0" fill="none" stroke="#1e1e1e" stroke-width="1.7" stroke-linejoin="round"/>
<path d="M81.7,798.8 121.9,798.8 131.2,797.2 135.8,796.2 152.3,791.9 160.8,789.9 165.5,789.1 168.8,788.7 177.0,788.4 182.0,788.7 184.9,789.0 186.6,789.4 191.8,790.9 197.1,793.0 201.4,794.4 206.0,795.6 210.3,796.5 215.3,797.2 220.9,797.7 224.5,798.0 232.7,798.3 253.8,798.7 283.2,798.8 305.3,798.8 329.0,798.5 356.7,798.8 378.2,798.6 383.1,798.3 384.8,798.1 386.4,797.7 387.7,797.3 389.1,796.6 392.7,794.3 393.3,794.1 394.0,794.1 395.0,794.3 398.3,795.8 400.6,796.5 403.6,797.0 407.2,797.3 427.3,797.5 479.4,797.4 482.4,797.3 485.4,797.0 489.0,796.4 491.6,795.8 496.6,794.6 524.6,786.8 529.5,785.6 535.5,784.5 539.8,784.0 543.4,783.7" fill="none" stroke="#e3302f" stroke-width="1.7" stroke-linejoin="round"/>
<path d="M81.7,782.5 121.9,782.5 131.2,780.9 135.8,780.0 152.3,775.7 160.8,773.6 165.5,772.9 168.8,772.5 177.0,772.2 182.0,772.4 184.9,772.8 186.6,773.1 191.8,774.7 197.1,776.7 201.4,778.1 206.0,779.3 210.3,780.2 215.3,780.9 220.9,781.5 224.5,781.7 232.7,782.0 253.8,782.4 283.2,782.5 305.3,782.5 329.0,782.2 356.7,782.5 378.2,782.3 383.1,782.1 384.8,781.8 386.4,781.4 387.7,781.0 389.1,780.4 392.7,778.1 393.3,777.8 394.0,777.8 395.0,778.0 398.3,779.5 400.6,780.2 403.6,780.7 407.2,781.0 427.3,781.2 479.4,781.2 482.4,781.0 485.4,780.7 489.0,780.1 491.6,779.6 496.6,778.3 524.6,770.5 529.5,769.3 535.5,768.3 539.8,767.7 543.4,767.4" fill="none" stroke="#3030d8" stroke-width="1.7" stroke-linejoin="round"/>
<path d="M81.7,766.3 121.9,766.2 131.2,764.6 135.8,763.7 152.3,759.4 160.8,757.3 165.5,756.6 168.8,756.2 177.0,755.9 182.0,756.2 184.9,756.5 186.6,756.8 191.8,758.4 197.1,760.4 201.4,761.8 206.0,763.0 210.3,763.9 215.3,764.6 220.9,765.2 224.5,765.4 232.7,765.7 253.8,766.1 283.2,766.2 305.3,766.2 329.0,765.9 356.7,766.2 378.2,766.1 383.1,765.8 384.8,765.5 386.4,765.2 387.7,764.7 389.1,764.1 392.7,761.8 393.3,761.6 394.0,761.5 395.0,761.7 398.3,763.2 400.6,763.9 403.6,764.5 407.2,764.7 427.3,764.9 479.4,764.9 482.4,764.7 485.4,764.5 489.0,763.9 491.6,763.3 496.6,762.0 524.6,754.2 529.5,753.1 535.5,752.0 539.8,751.5 543.4,751.2" fill="none" stroke="#f03cf0" stroke-width="1.7" stroke-linejoin="round"/>
<path d="M81.7,750.0 121.9,749.9 131.2,748.3 135.8,747.4 152.3,743.1 160.8,741.1 165.5,740.3 168.8,740.0 177.0,739.7 182.0,739.9 184.9,740.3 186.6,740.6 191.8,742.1 197.1,744.2 201.4,745.6 206.0,746.8 210.3,747.7 215.3,748.4 220.9,748.9 224.5,749.1 232.7,749.4 253.8,749.8 283.2,750.0 305.3,749.9 329.0,749.7 356.7,749.9 378.2,749.8 383.1,749.5 384.8,749.3 386.4,748.9 387.7,748.4 389.1,747.8 392.7,745.5 393.3,745.3 394.0,745.2 395.0,745.4 398.3,746.9 400.6,747.7 403.6,748.2 407.2,748.4 427.3,748.6 479.4,748.6 482.4,748.5 485.4,748.2 489.0,747.6 491.6,747.0 496.6,745.7 524.6,738.0 529.5,736.8 535.5,735.7 539.8,735.2 543.4,734.9" fill="none" stroke="#2c942c" stroke-width="1.7" stroke-linejoin="round"/>
<path d="M81.7,733.7 121.9,733.7 131.2,732.1 135.8,731.1 152.3,726.9 160.8,724.8 165.5,724.1 168.8,723.7 177.0,723.4 182.0,723.7 184.9,724.0 186.6,724.3 191.8,725.9 197.1,727.9 201.4,729.3 206.0,730.5 210.3,731.4 215.3,732.1 220.9,732.6 224.5,732.9 232.7,733.2 253.8,733.5 283.2,733.7 305.3,733.7 329.0,733.4 356.7,733.6 378.2,733.5 383.1,733.2 384.8,733.0 386.4,732.6 387.7,732.1 389.1,731.5 392.7,729.2 393.3,729.0 394.0,728.9 395.0,729.2 398.3,730.6 400.6,731.4 403.6,731.9 407.2,732.1 427.3,732.4 479.4,732.3 482.4,732.2 485.4,731.9 489.0,731.3 491.6,730.7 496.6,729.5 524.6,721.7 529.5,720.5 535.5,719.4 539.8,718.9 543.4,718.6" fill="none" stroke="#1c1c84" stroke-width="1.7" stroke-linejoin="round"/>
<path d="M81.7,717.4 121.9,717.4 131.2,715.8 135.8,714.9 152.3,710.6 160.8,708.6 165.5,707.8 168.8,707.4 177.0,707.1 182.0,707.4 184.9,707.7 186.6,708.1 191.8,709.6 197.1,711.6 201.4,713.0 206.0,714.2 210.3,715.1 215.3,715.8 220.9,716.4 224.5,716.6 232.7,716.9 253.8,717.3 283.2,717.4 305.3,717.4 329.0,717.1 356.7,717.4 378.2,717.2 383.1,716.9 384.8,716.7 386.4,716.3 387.7,715.9 389.1,715.2 392.7,712.9 393.3,712.7 394.0,712.7 395.0,712.9 398.3,714.4 400.6,715.1 403.6,715.6 407.2,715.9 427.3,716.1 479.4,716.0 482.4,715.9 485.4,715.6 489.0,715.0 491.6,714.4 496.6,713.2 524.6,705.4 529.5,704.2 535.5,703.1 539.8,702.6 543.4,702.3" fill="none" stroke="#9a3cf0" stroke-width="1.7" stroke-linejoin="round"/>
<path d="M81.7,701.1 121.9,701.1 131.2,699.5 135.8,698.6 152.3,694.3 160.8,692.3 165.5,691.6 168.8,691.2 177.0,690.9 182.0,691.1 184.9,691.5 186.6,691.8 191.8,693.3 197.1,695.4 201.4,696.7 206.0,697.9 210.3,698.8 215.3,699.5 220.9,700.1 224.5,700.3 232.7,700.6 253.8,701.0 283.2,701.1 305.3,701.1 329.0,700.8 356.7,701.1 378.2,700.9 383.1,700.7 384.8,700.4 386.4,700.0 387.7,699.6 389.1,699.0 392.7,696.7 393.3,696.4 394.0,696.4 395.0,696.6 398.3,698.1 400.6,698.8 403.6,699.3 407.2,699.6 427.3,699.8 479.4,699.8 482.4,699.6 485.4,699.3 489.0,698.7 491.6,698.2 496.6,696.9 524.6,689.1 529.5,687.9 535.5,686.9 539.8,686.3 543.4,686.0" fill="none" stroke="#8a3490" stroke-width="1.7" stroke-linejoin="round"/>
<path d="M81.7,684.9 121.9,684.8 131.2,683.2 135.8,682.3 152.3,678.1 160.8,676.0 165.5,675.3 168.8,674.9 177.0,674.6 182.0,674.9 184.9,675.2 186.6,675.5 191.8,677.1 197.1,679.1 201.4,680.5 206.0,681.7 210.3,682.6 215.3,683.3 220.9,683.8 224.5,684.0 232.7,684.3 253.8,684.7 283.2,684.8 305.3,684.8 329.0,684.5 356.7,684.8 378.2,684.7 383.1,684.4 384.8,684.1 386.4,683.8 387.7,683.3 389.1,682.7 392.7,680.4 393.3,680.2 394.0,680.1 395.0,680.3 398.3,681.8 400.6,682.5 403.6,683.1 407.2,683.3 427.3,683.5 479.4,683.5 482.4,683.3 485.4,683.1 489.0,682.5 491.6,681.9 496.6,680.6 524.6,672.8 529.5,671.7 535.5,670.6 539.8,670.1 543.4,669.8" fill="none" stroke="#802828" stroke-width="1.7" stroke-linejoin="round"/>
<path d="M81.7,668.6 121.9,668.5 131.2,667.0 135.8,666.0 152.3,661.8 160.8,659.8 165.5,659.0 168.8,658.7 177.0,658.4 182.0,658.6 184.9,658.9 186.6,659.3 191.8,660.8 197.1,662.8 201.4,664.2 206.0,665.4 210.3,666.3 215.3,667.0 220.9,667.5 224.5,667.8 232.7,668.1 253.8,668.4 283.2,668.6 305.3,668.5 329.0,668.3 356.7,668.5 378.2,668.4 383.1,668.1 384.8,667.9 386.4,667.5 387.7,667.0 389.1,666.4 392.7,664.1 393.3,663.9 394.0,663.8 395.0,664.0 398.3,665.5 400.6,666.3 403.6,666.8 407.2,667.0 427.3,667.2 479.4,667.2 482.4,667.1 485.4,666.8 489.0,666.2 491.6,665.6 496.6,664.3 524.6,656.6 529.5,655.4 535.5,654.3 539.8,653.8 543.4,653.5" fill="none" stroke="#a6a63a" stroke-width="1.7" stroke-linejoin="round"/>
<path d="M81.7,652.3 121.9,652.3 131.2,650.7 135.8,649.8 152.3,645.5 160.8,643.5 165.5,642.8 168.8,642.4 177.0,642.1 182.0,642.4 184.9,642.7 186.6,643.0 191.8,644.6 197.1,646.6 201.4,647.9 206.0,649.1 210.3,650.0 215.3,650.7 220.9,651.2 224.5,651.5 232.7,651.8 253.8,652.1 283.2,652.3 305.3,652.3 329.0,652.0 356.7,652.2 378.2,652.1 383.1,651.8 384.8,651.6 386.4,651.2 387.7,650.7 389.1,650.1 392.7,647.8 393.3,647.6 394.0,647.5 395.0,647.8 398.3,649.2 400.6,650.0 403.6,650.5 407.2,650.7 427.3,651.0 479.4,650.9 482.4,650.8 485.4,650.5 489.0,649.9 491.6,649.3 496.6,648.1 524.6,640.3 529.5,639.1 535.5,638.0 539.8,637.5 543.4,637.2" fill="none" stroke="#4a7cbc" stroke-width="1.7" stroke-linejoin="round"/>
<path d="M81.7,636.0 121.9,636.0 131.2,634.4 135.8,633.5 152.3,629.3 160.8,627.2 165.5,626.5 168.8,626.1 177.0,625.8 182.0,626.1 184.9,626.4 186.6,626.7 191.8,628.3 197.1,630.3 201.4,631.7 206.0,632.8 210.3,633.7 215.3,634.4 220.9,635.0 224.5,635.2 232.7,635.5 253.8,635.9 283.2,636.0 305.3,636.0 329.0,635.7 356.7,636.0 378.2,635.8 383.1,635.5 384.8,635.3 386.4,634.9 387.7,634.5 389.1,633.8 392.7,631.5 393.3,631.3 394.0,631.3 395.0,631.5 398.3,633.0 400.6,633.7 403.6,634.2 407.2,634.5 427.3,634.7 479.4,634.6 482.4,634.5 485.4,634.2 489.0,633.6 491.6,633.0 496.6,631.8 524.6,624.0 529.5,622.8 535.5,621.7 539.8,621.2 543.4,620.9" fill="none" stroke="#48a0a4" stroke-width="1.7" stroke-linejoin="round"/>
<path d="M81.7,619.7 121.9,619.7 131.2,618.1 135.8,617.2 152.3,613.0 160.8,611.0 165.5,610.3 168.8,609.9 177.0,609.6 182.0,609.8 184.9,610.2 186.6,610.5 191.8,612.0 197.1,614.0 201.4,615.4 206.0,616.6 210.3,617.5 215.3,618.1 220.9,618.7 224.5,618.9 232.7,619.2 253.8,619.6 283.2,619.7 305.3,619.7 329.0,619.4 356.7,619.7 378.2,619.5 383.1,619.3 384.8,619.0 386.4,618.6 387.7,618.2 389.1,617.6 392.7,615.3 393.3,615.0 394.0,615.0 395.0,615.2 398.3,616.7 400.6,617.4 403.6,617.9 407.2,618.2 427.3,618.4 479.4,618.4 482.4,618.2 485.4,617.9 489.0,617.3 491.6,616.8 496.6,615.5 524.6,607.7 529.5,606.5 535.5,605.5 539.8,604.9 543.4,604.6" fill="none" stroke="#a87c50" stroke-width="1.7" stroke-linejoin="round"/>
<path d="M81.7,603.5 121.9,603.4 131.2,601.9 135.8,600.9 152.3,596.7 160.8,594.7 165.5,594.0 168.8,593.6 177.0,593.3 182.0,593.6 184.9,593.9 186.6,594.2 191.8,595.8 197.1,597.8 201.4,599.1 206.0,600.3 210.3,601.2 215.3,601.9 220.9,602.4 232.7,602.9 253.8,603.3 283.2,603.4 305.3,603.4 329.0,603.1 356.7,603.4 378.2,603.3 383.1,603.0 384.8,602.7 386.4,602.4 387.7,601.9 389.1,601.3 392.7,599.0 393.3,598.8 394.0,598.7 395.0,598.9 398.3,600.4 400.6,601.1 403.6,601.7 407.2,601.9 427.3,602.1 479.4,602.1 482.4,601.9 485.4,601.7 489.0,601.1 491.6,600.5 496.6,599.2 524.6,591.4 529.5,590.3 535.5,589.2 539.8,588.7 543.4,588.4" fill="none" stroke="#48c474" stroke-width="1.7" stroke-linejoin="round"/>
<path d="M81.7,587.2 121.9,587.1 131.2,585.6 135.8,584.7 152.3,580.5 160.8,578.5 165.5,577.7 168.8,577.3 177.0,577.1 182.0,577.3 184.9,577.6 186.6,578.0 191.8,579.5 197.1,581.5 201.4,582.8 206.0,584.0 210.3,584.9 215.3,585.6 220.9,586.1 232.7,586.7 253.8,587.0 283.2,587.2 305.3,587.1 329.0,586.9 356.7,587.1 378.2,587.0 383.1,586.7 384.8,586.5 386.4,586.1 387.7,585.6 389.1,585.0 392.7,582.7 393.3,582.5 394.0,582.4 395.0,582.6 398.3,584.1 400.6,584.9 403.6,585.4 407.2,585.6 427.3,585.8 479.4,585.8 482.4,585.7 485.4,585.4 489.0,584.8 491.6,584.2 496.6,582.9 524.6,575.2 529.5,574.0 535.5,572.9 539.8,572.4 543.4,572.1" fill="none" stroke="#d2407e" stroke-width="1.7" stroke-linejoin="round"/>
<path d="M81.7,570.9 121.9,570.9 131.2,569.3 135.8,568.4 152.3,564.2 160.8,562.2 165.5,561.5 168.8,561.1 177.0,560.8 182.0,561.1 184.9,561.4 186.6,561.7 191.8,563.2 197.1,565.2 201.4,566.6 206.0,567.8 210.3,568.6 215.3,569.3 220.9,569.9 232.7,570.4 253.8,570.7 283.2,570.9 305.3,570.9 329.0,570.6 356.7,570.8 378.2,570.7 383.1,570.4 384.8,570.2 386.4,569.8 387.7,569.3 389.1,568.7 392.7,566.4 393.3,566.2 394.0,566.1 395.0,566.4 398.3,567.8 400.6,568.6 403.6,569.1 407.2,569.3 427.3,569.6 479.4,569.5 482.4,569.4 485.4,569.1 489.0,568.5 491.6,567.9 496.6,566.7 524.6,558.9 529.5,557.7 535.5,556.6 539.8,556.1 543.4,555.8" fill="none" stroke="#44c8d8" stroke-width="1.7" stroke-linejoin="round"/>
<line x1="81.7" y1="518.2" x2="81.7" y2="859" stroke="#333" stroke-width="1.7"/>
<line x1="80.9" y1="852.5" x2="544.2" y2="852.5" stroke="#333" stroke-width="1.7"/>
<line x1="81.7" y1="852.5" x2="81.7" y2="859" stroke="#333" stroke-width="1.5"/>
<line x1="114.68" y1="852.5" x2="114.68" y2="856" stroke="#333" stroke-width="1.5"/>
<line x1="147.66" y1="852.5" x2="147.66" y2="859" stroke="#333" stroke-width="1.5"/>
<line x1="180.64" y1="852.5" x2="180.64" y2="856" stroke="#333" stroke-width="1.5"/>
<line x1="213.61" y1="852.5" x2="213.61" y2="859" stroke="#333" stroke-width="1.5"/>
<line x1="246.59" y1="852.5" x2="246.59" y2="856" stroke="#333" stroke-width="1.5"/>
<line x1="279.57" y1="852.5" x2="279.57" y2="859" stroke="#333" stroke-width="1.5"/>
<line x1="312.55" y1="852.5" x2="312.55" y2="856" stroke="#333" stroke-width="1.5"/>
<line x1="345.53" y1="852.5" x2="345.53" y2="859" stroke="#333" stroke-width="1.5"/>
<line x1="378.51" y1="852.5" x2="378.51" y2="856" stroke="#333" stroke-width="1.5"/>
<line x1="411.49" y1="852.5" x2="411.49" y2="859" stroke="#333" stroke-width="1.5"/>
<line x1="444.46" y1="852.5" x2="444.46" y2="856" stroke="#333" stroke-width="1.5"/>
<line x1="477.44" y1="852.5" x2="477.44" y2="859" stroke="#333" stroke-width="1.5"/>
<line x1="510.42" y1="852.5" x2="510.42" y2="856" stroke="#333" stroke-width="1.5"/>
<line x1="543.4" y1="852.5" x2="543.4" y2="859" stroke="#333" stroke-width="1.5"/>
<text x="81.7" y="873.7" font-size="14" text-anchor="middle" letter-spacing="0.35" fill="#1a1a1a" stroke="#1a1a1a" stroke-width="0.25">4000</text>
<text x="147.66" y="873.7" font-size="14" text-anchor="middle" letter-spacing="0.35" fill="#1a1a1a" stroke="#1a1a1a" stroke-width="0.25">3500</text>
<text x="213.61" y="873.7" font-size="14" text-anchor="middle" letter-spacing="0.35" fill="#1a1a1a" stroke="#1a1a1a" stroke-width="0.25">3000</text>
<text x="279.57" y="873.7" font-size="14" text-anchor="middle" letter-spacing="0.35" fill="#1a1a1a" stroke="#1a1a1a" stroke-width="0.25">2500</text>
<text x="345.53" y="873.7" font-size="14" text-anchor="middle" letter-spacing="0.35" fill="#1a1a1a" stroke="#1a1a1a" stroke-width="0.25">2000</text>
<text x="411.49" y="873.7" font-size="14" text-anchor="middle" letter-spacing="0.35" fill="#1a1a1a" stroke="#1a1a1a" stroke-width="0.25">1500</text>
<text x="477.44" y="873.7" font-size="14" text-anchor="middle" letter-spacing="0.35" fill="#1a1a1a" stroke="#1a1a1a" stroke-width="0.25">1000</text>
<text x="543.4" y="873.7" font-size="14" text-anchor="middle" letter-spacing="0.35" fill="#1a1a1a" stroke="#1a1a1a" stroke-width="0.25">500</text>
<text transform="translate(242.4,895.8) scale(1.078,1)" font-size="16.4" fill="#1a1a1a">Wavenumber (Cm<tspan font-size="9.84" dy="-7.8">-1</tspan><tspan dy="7.8">)</tspan></text>
<text transform="translate(66.8,759.33) rotate(-90) scale(1.0082,1)" font-size="17" fill="#1a1a1a">Absorption intensity</text>
<line x1="177.89" y1="853.4" x2="177.89" y2="517.5" stroke="#2a2a2a" stroke-width="1.7" stroke-dasharray="7.9 7.97"/>
<text transform="translate(184.14,515.16) rotate(-90) scale(1.0029,1.1417)" font-size="12" fill="#222">3270.84</text>
<line x1="393.42" y1="853.4" x2="393.42" y2="517.5" stroke="#2a2a2a" stroke-width="1.7" stroke-dasharray="7.9 7.97"/>
<text transform="translate(399.11,515.63) rotate(-90) scale(1.0199,0.9181)" font-size="12" fill="#222">1636.97</text>
<text transform="translate(192.98,501.7) scale(1.0387,1.0000)" font-size="15.3" font-weight="bold" fill="#7a5030">Whole ATR-FTIR spectra</text>
<text transform="translate(227.38,521.8) scale(1.0346,1.0000)" font-size="15.3" font-weight="bold" fill="#7a5030">of semen (40%)</text>
<text transform="translate(231.7,541.3) scale(1.0429,1.0000)" font-size="15.3" font-weight="bold" fill="#7a5030">(up to 30 min)</text>
<text transform="translate(451.98,531.53) scale(0.9662,1.0263)" font-size="46" font-weight="bold" fill="#000">d</text>
<rect x="561.3" y="528" width="69.3" height="342.4" fill="#fff" stroke="#8a8a8a" stroke-width="1.3"/>
<text x="594.4" y="525" font-size="17.3" text-anchor="middle" fill="#1a1a1a">Min</text>
<line x1="564.1" y1="539.7" x2="603.2" y2="539.7" stroke="#44c8d8" stroke-width="2.2"/>
<text x="608" y="545.82" font-size="17" fill="#1a1a1a" stroke="#1a1a1a" stroke-width="0.3">30</text>
<line x1="564.1" y1="560.9" x2="603.2" y2="560.9" stroke="#d2407e" stroke-width="2.2"/>
<text x="608" y="567.02" font-size="17" fill="#1a1a1a" stroke="#1a1a1a" stroke-width="0.3">28</text>
<line x1="564.1" y1="582.1" x2="603.2" y2="582.1" stroke="#48c474" stroke-width="2.2"/>
<text x="608" y="588.22" font-size="17" fill="#1a1a1a" stroke="#1a1a1a" stroke-width="0.3">26</text>
<line x1="564.1" y1="603.3" x2="603.2" y2="603.3" stroke="#a87c50" stroke-width="2.2"/>
<text x="608" y="609.42" font-size="17" fill="#1a1a1a" stroke="#1a1a1a" stroke-width="0.3">24</text>
<line x1="564.1" y1="624.5" x2="603.2" y2="624.5" stroke="#48a0a4" stroke-width="2.2"/>
<text x="608" y="630.62" font-size="17" fill="#1a1a1a" stroke="#1a1a1a" stroke-width="0.3">22</text>
<line x1="564.1" y1="645.7" x2="603.2" y2="645.7" stroke="#4a7cbc" stroke-width="2.2"/>
<text x="608" y="651.82" font-size="17" fill="#1a1a1a" stroke="#1a1a1a" stroke-width="0.3">20</text>
<line x1="564.1" y1="666.9" x2="603.2" y2="666.9" stroke="#a6a63a" stroke-width="2.2"/>
<text x="608" y="673.02" font-size="17" fill="#1a1a1a" stroke="#1a1a1a" stroke-width="0.3">18</text>
<line x1="564.1" y1="688.1" x2="603.2" y2="688.1" stroke="#802828" stroke-width="2.2"/>
<text x="608" y="694.22" font-size="17" fill="#1a1a1a" stroke="#1a1a1a" stroke-width="0.3">16</text>
<line x1="564.1" y1="709.3" x2="603.2" y2="709.3" stroke="#8a3490" stroke-width="2.2"/>
<text x="608" y="715.42" font-size="17" fill="#1a1a1a" stroke="#1a1a1a" stroke-width="0.3">14</text>
<line x1="564.1" y1="730.5" x2="603.2" y2="730.5" stroke="#9a3cf0" stroke-width="2.2"/>
<text x="608" y="736.62" font-size="17" fill="#1a1a1a" stroke="#1a1a1a" stroke-width="0.3">12</text>
<line x1="564.1" y1="751.7" x2="603.2" y2="751.7" stroke="#1c1c84" stroke-width="2.2"/>
<text x="608" y="757.82" font-size="17" fill="#1a1a1a" stroke="#1a1a1a" stroke-width="0.3">10</text>
<line x1="564.1" y1="772.9" x2="603.2" y2="772.9" stroke="#2c942c" stroke-width="2.2"/>
<text x="608" y="779.02" font-size="17" fill="#1a1a1a" stroke="#1a1a1a" stroke-width="0.3">8</text>
<line x1="564.1" y1="794.1" x2="603.2" y2="794.1" stroke="#f03cf0" stroke-width="2.2"/>
<text x="608" y="800.22" font-size="17" fill="#1a1a1a" stroke="#1a1a1a" stroke-width="0.3">6</text>
<line x1="564.1" y1="815.3" x2="603.2" y2="815.3" stroke="#3030d8" stroke-width="2.2"/>
<text x="608" y="821.42" font-size="17" fill="#1a1a1a" stroke="#1a1a1a" stroke-width="0.3">4</text>
<line x1="564.1" y1="836.5" x2="603.2" y2="836.5" stroke="#e3302f" stroke-width="2.2"/>
<text x="608" y="842.62" font-size="17" fill="#1a1a1a" stroke="#1a1a1a" stroke-width="0.3">2</text>
<line x1="564.1" y1="857.7" x2="603.2" y2="857.7" stroke="#1e1e1e" stroke-width="2.2"/>
<text x="608" y="863.82" font-size="17" fill="#1a1a1a" stroke="#1a1a1a" stroke-width="0.3">0</text>
<line x1="679" y1="470.3" x2="1328" y2="470.3" stroke="#cfcfcf" stroke-width="1.8"/>
<line x1="679" y1="470" x2="679" y2="916" stroke="#8c8c8c" stroke-width="1.6"/>
<line x1="1328" y1="470" x2="1328" y2="916" stroke="#585858" stroke-width="1.8"/>
<line x1="679" y1="916" x2="1328" y2="916" stroke="#b4b4b4" stroke-width="1.8"/>
<path d="M759.4,831.6 798.9,831.5 799.9,831.4 805.2,829.8 809.4,828.4 814.4,826.5 818.6,824.7 823.6,822.4 827.9,820.2 831.5,818.2 837.1,814.5 839.4,813.4 841.7,812.4 844.0,811.7 847.6,811.0 850.9,810.8 855.2,810.7 857.8,810.8 860.4,811.0 863.1,811.6 864.7,812.2 867.0,813.4 868.7,814.4 871.6,816.5 875.9,819.8 882.8,824.1 884.8,825.1 888.8,826.7 893.0,828.1 899.0,829.3 902.6,829.8 909.8,830.4 917.4,830.7 926.6,830.9 958.9,831.1 981.9,831.0 1006.9,830.7 1038.5,830.9 1048.4,830.7 1055.0,830.6 1057.9,830.4 1060.2,830.0 1061.9,829.6 1063.5,828.9 1064.8,828.1 1066.2,827.0 1069.5,823.4 1070.1,822.9 1070.8,822.7 1071.4,822.8 1072.1,823.1 1075.4,825.9 1076.4,826.6 1077.7,827.3 1079.0,827.8 1080.3,828.2 1083.9,828.7 1091.8,829.0 1108.0,829.1 1144.2,829.2 1150.8,828.9 1156.3,828.5 1159.3,828.0 1165.6,826.3 1169.5,824.9 1174.1,822.9 1176.8,821.6 1205.1,806.0 1207.7,804.7 1209.7,803.9 1214.3,802.3 1217.2,801.6 1220.2,801.0" fill="none" stroke="#1e1e1e" stroke-width="1.9" stroke-linejoin="round"/>
<path d="M759.4,798.2 798.9,798.1 799.9,798.0 805.2,796.5 809.4,795.0 814.4,793.2 818.6,791.3 823.6,789.0 827.9,786.9 831.5,784.8 837.1,781.2 839.4,780.1 841.7,779.1 844.0,778.4 847.6,777.7 850.9,777.5 855.2,777.3 857.8,777.4 860.4,777.7 863.1,778.2 864.7,778.9 867.0,780.1 868.7,781.1 871.6,783.1 875.9,786.5 882.8,790.7 884.8,791.8 888.8,793.4 893.0,794.7 899.0,796.0 902.6,796.5 909.8,797.0 917.4,797.4 926.6,797.6 958.9,797.7 981.9,797.7 1006.9,797.3 1038.5,797.5 1048.4,797.4 1055.0,797.2 1057.9,797.0 1060.2,796.7 1061.9,796.2 1063.5,795.6 1064.8,794.8 1066.2,793.7 1069.5,790.0 1070.1,789.5 1070.8,789.3 1071.4,789.4 1072.1,789.8 1075.4,792.6 1076.4,793.3 1077.7,794.0 1079.0,794.5 1080.3,794.8 1083.9,795.3 1091.8,795.6 1108.0,795.8 1144.2,795.8 1150.8,795.6 1156.3,795.1 1159.3,794.6 1165.6,793.0 1169.5,791.6 1174.1,789.6 1176.8,788.3 1205.1,772.7 1207.7,771.3 1209.7,770.5 1214.3,769.0 1217.2,768.2 1220.2,767.6" fill="none" stroke="#e3302f" stroke-width="1.9" stroke-linejoin="round"/>
<path d="M759.4,764.9 798.9,764.8 799.9,764.7 805.2,763.1 809.4,761.7 814.4,759.8 818.6,758.0 823.6,755.7 827.9,753.5 831.5,751.5 837.1,747.8 839.4,746.7 841.7,745.8 844.0,745.0 847.6,744.3 850.9,744.1 855.2,744.0 857.8,744.1 860.4,744.3 863.1,744.9 864.7,745.6 867.0,746.7 868.7,747.7 871.6,749.8 875.9,753.1 882.8,757.4 884.8,758.4 888.8,760.0 893.0,761.3 899.0,762.6 902.6,763.1 909.8,763.6 917.4,764.0 926.6,764.2 958.9,764.4 981.9,764.3 1006.9,764.0 1038.5,764.1 1048.4,764.0 1055.0,763.8 1057.9,763.6 1060.2,763.3 1061.9,762.9 1063.5,762.2 1064.8,761.4 1066.2,760.3 1069.5,756.6 1070.1,756.1 1070.8,755.9 1071.4,756.0 1072.1,756.4 1075.4,759.2 1076.4,759.9 1077.7,760.6 1079.0,761.1 1080.3,761.5 1083.9,762.0 1091.8,762.3 1108.0,762.4 1144.2,762.5 1150.8,762.2 1156.3,761.8 1159.3,761.3 1165.6,759.6 1169.5,758.2 1174.1,756.2 1176.8,754.9 1205.1,739.3 1207.7,738.0 1209.7,737.1 1214.3,735.6 1217.2,734.8 1220.2,734.3" fill="none" stroke="#3030d8" stroke-width="1.9" stroke-linejoin="round"/>
<path d="M759.4,731.5 798.9,731.4 799.9,731.3 805.2,729.7 809.4,728.3 814.4,726.5 818.6,724.6 823.6,722.3 827.9,720.2 831.5,718.1 837.1,714.5 839.4,713.4 841.7,712.4 844.0,711.7 847.6,711.0 850.9,710.8 855.2,710.7 857.8,710.7 860.4,711.0 863.1,711.6 864.7,712.2 867.0,713.4 868.7,714.4 871.6,716.4 875.9,719.8 882.8,724.0 884.8,725.1 888.8,726.7 893.0,728.0 899.0,729.3 902.6,729.7 909.8,730.3 917.4,730.6 926.6,730.8 958.9,731.0 981.9,731.0 1006.9,730.6 1038.5,730.8 1048.4,730.7 1055.0,730.5 1057.9,730.3 1060.2,729.9 1061.9,729.5 1063.5,728.8 1064.8,728.0 1066.2,726.9 1069.5,723.3 1070.1,722.8 1070.8,722.6 1071.4,722.7 1072.1,723.0 1075.4,725.9 1076.4,726.5 1077.7,727.2 1079.0,727.8 1080.3,728.1 1083.9,728.6 1091.8,728.9 1108.0,729.1 1144.2,729.1 1150.8,728.9 1156.3,728.4 1159.3,727.9 1165.6,726.3 1169.5,724.9 1174.1,722.8 1176.8,721.5 1205.1,706.0 1207.7,704.6 1209.7,703.8 1214.3,702.3 1217.2,701.5 1220.2,700.9" fill="none" stroke="#f03cf0" stroke-width="1.9" stroke-linejoin="round"/>
<path d="M759.4,698.2 798.9,698.1 799.9,697.9 805.2,696.4 809.4,695.0 814.4,693.1 818.6,691.3 823.6,689.0 827.9,686.8 831.5,684.8 837.1,681.1 839.4,680.0 841.7,679.1 844.0,678.4 847.6,677.7 850.9,677.5 855.2,677.3 857.8,677.4 860.4,677.6 863.1,678.2 864.7,678.9 867.0,680.1 868.7,681.1 871.6,683.1 875.9,686.4 882.8,690.7 884.8,691.7 888.8,693.3 893.0,694.6 899.0,695.9 902.6,696.4 909.8,696.9 917.4,697.3 926.6,697.5 958.9,697.7 981.9,697.6 1006.9,697.3 1038.5,697.4 1048.4,697.3 1055.0,697.1 1057.9,696.9 1060.2,696.6 1061.9,696.2 1063.5,695.5 1064.8,694.7 1066.2,693.6 1069.5,689.9 1070.1,689.4 1070.8,689.2 1071.4,689.3 1072.1,689.7 1075.4,692.5 1076.4,693.2 1077.7,693.9 1079.0,694.4 1080.3,694.8 1083.9,695.3 1091.8,695.6 1108.0,695.7 1144.2,695.7 1150.8,695.5 1156.3,695.0 1159.3,694.5 1165.6,692.9 1169.5,691.5 1174.1,689.5 1176.8,688.2 1205.1,672.6 1207.7,671.3 1209.7,670.4 1214.3,668.9 1217.2,668.1 1220.2,667.6" fill="none" stroke="#2c942c" stroke-width="1.9" stroke-linejoin="round"/>
<path d="M759.4,664.8 798.9,664.7 799.9,664.6 805.2,663.0 809.4,661.6 814.4,659.8 818.6,657.9 823.6,655.6 827.9,653.5 831.5,651.4 837.1,647.8 839.4,646.7 841.7,645.7 844.0,645.0 847.6,644.3 850.9,644.1 855.2,644.0 857.8,644.1 860.4,644.3 863.1,644.9 864.7,645.5 867.0,646.7 868.7,647.7 871.6,649.8 875.9,653.1 882.8,657.3 884.8,658.4 888.8,660.0 893.0,661.3 899.0,662.5 902.6,663.0 909.8,663.6 917.4,663.9 926.6,664.1 958.9,664.3 981.9,664.2 1006.9,663.9 1038.5,664.1 1048.4,663.9 1055.0,663.8 1057.9,663.6 1060.2,663.2 1061.9,662.8 1063.5,662.1 1064.8,661.3 1066.2,660.2 1069.5,656.6 1070.1,656.1 1070.8,655.9 1071.4,656.0 1072.1,656.3 1075.4,659.1 1076.4,659.8 1077.7,660.5 1079.0,661.0 1080.3,661.4 1083.9,661.9 1091.8,662.2 1108.0,662.3 1144.2,662.4 1150.8,662.1 1156.3,661.7 1159.3,661.2 1165.6,659.5 1169.5,658.1 1174.1,656.1 1176.8,654.8 1205.1,639.2 1207.7,637.9 1209.7,637.1 1214.3,635.5 1217.2,634.8 1220.2,634.2" fill="none" stroke="#1c1c84" stroke-width="1.9" stroke-linejoin="round"/>
<path d="M759.4,631.4 798.9,631.3 799.9,631.2 805.2,629.7 809.4,628.2 814.4,626.4 818.6,624.6 823.6,622.3 827.9,620.1 831.5,618.1 837.1,614.5 839.4,613.4 841.7,612.4 844.0,611.7 847.6,611.0 850.9,610.8 855.2,610.7 857.8,610.7 860.4,611.0 863.1,611.6 864.7,612.2 867.0,613.4 868.7,614.4 871.6,616.4 875.9,619.7 882.8,624.0 884.8,625.0 888.8,626.6 893.0,627.9 899.0,629.2 902.6,629.7 909.8,630.2 917.4,630.6 926.6,630.8 958.9,630.9 981.9,630.9 1006.9,630.5 1038.5,630.7 1048.4,630.6 1055.0,630.4 1057.9,630.2 1060.2,629.9 1061.9,629.4 1063.5,628.8 1064.8,628.0 1066.2,626.9 1069.5,623.2 1070.1,622.7 1070.8,622.5 1071.4,622.6 1072.1,623.0 1075.4,625.8 1076.4,626.5 1077.7,627.2 1079.0,627.7 1080.3,628.0 1083.9,628.5 1091.8,628.8 1108.0,629.0 1144.2,629.0 1150.8,628.8 1156.3,628.3 1159.3,627.8 1165.6,626.2 1169.5,624.8 1174.1,622.8 1176.8,621.5 1205.1,605.9 1207.7,604.5 1209.7,603.7 1214.3,602.2 1217.2,601.4 1220.2,600.8" fill="none" stroke="#9a3cf0" stroke-width="1.9" stroke-linejoin="round"/>
<path d="M759.4,598.1 798.9,598.0 799.9,597.9 805.2,596.3 809.4,594.9 814.4,593.1 818.6,591.2 823.6,588.9 827.9,586.8 831.5,584.8 837.1,581.1 839.4,580.0 841.7,579.1 844.0,578.4 847.6,577.7 850.9,577.4 855.2,577.3 857.8,577.4 860.4,577.6 863.1,578.2 864.7,578.9 867.0,580.0 868.7,581.0 871.6,583.1 875.9,586.4 882.8,590.6 884.8,591.7 888.8,593.3 893.0,594.6 899.0,595.8 902.6,596.3 909.8,596.9 917.4,597.2 926.6,597.4 959.2,597.6 982.2,597.5 1006.9,597.2 1038.5,597.3 1048.4,597.2 1055.0,597.0 1057.9,596.8 1060.2,596.5 1061.9,596.1 1063.5,595.4 1064.8,594.6 1066.2,593.5 1069.5,589.8 1070.1,589.3 1070.8,589.1 1071.4,589.2 1072.1,589.6 1075.4,592.4 1076.4,593.1 1077.7,593.8 1079.0,594.3 1080.3,594.7 1083.9,595.2 1091.8,595.5 1108.0,595.6 1144.2,595.7 1150.8,595.4 1156.3,595.0 1159.3,594.5 1165.6,592.8 1169.5,591.4 1174.1,589.4 1176.8,588.1 1205.1,572.5 1207.7,571.2 1209.7,570.3 1214.3,568.8 1217.2,568.0 1220.2,567.5" fill="none" stroke="#8a3490" stroke-width="1.9" stroke-linejoin="round"/>
<path d="M759.4,564.7 798.9,564.6 799.9,564.5 805.2,563.0 809.4,561.5 814.4,559.7 818.6,557.9 823.6,555.6 827.9,553.4 831.5,551.4 837.1,547.8 839.4,546.7 841.7,545.7 844.0,545.0 847.6,544.3 850.9,544.1 855.2,544.0 857.8,544.1 860.4,544.3 863.1,544.9 864.7,545.5 867.0,546.7 868.7,547.7 871.6,549.7 875.9,553.1 882.8,557.2 884.8,558.3 888.8,559.9 893.0,561.2 899.0,562.5 902.6,562.9 909.8,563.5 917.4,563.8 926.6,564.0 959.2,564.2 982.2,564.2 1006.9,563.8 1038.5,564.0 1048.4,563.9 1055.0,563.7 1057.9,563.5 1060.2,563.1 1061.9,562.7 1063.5,562.0 1064.8,561.2 1066.2,560.1 1069.5,556.5 1070.1,556.0 1070.8,555.8 1071.4,555.9 1072.1,556.2 1075.4,559.1 1076.4,559.7 1077.7,560.4 1079.0,561.0 1080.3,561.3 1083.9,561.8 1091.8,562.1 1108.0,562.3 1144.2,562.3 1150.8,562.1 1156.3,561.6 1159.3,561.1 1165.6,559.5 1169.5,558.1 1174.1,556.0 1176.8,554.7 1205.1,539.2 1207.7,537.8 1209.7,537.0 1214.3,535.5 1217.2,534.7 1220.2,534.1" fill="none" stroke="#802828" stroke-width="1.9" stroke-linejoin="round"/>
<line x1="759.4" y1="528.2" x2="759.4" y2="869" stroke="#333" stroke-width="1.7"/>
<line x1="758.6" y1="862.5" x2="1221" y2="862.5" stroke="#333" stroke-width="1.7"/>
<line x1="759.4" y1="862.5" x2="759.4" y2="869" stroke="#333" stroke-width="1.5"/>
<line x1="792.31" y1="862.5" x2="792.31" y2="866" stroke="#333" stroke-width="1.5"/>
<line x1="825.23" y1="862.5" x2="825.23" y2="869" stroke="#333" stroke-width="1.5"/>
<line x1="858.14" y1="862.5" x2="858.14" y2="866" stroke="#333" stroke-width="1.5"/>
<line x1="891.06" y1="862.5" x2="891.06" y2="869" stroke="#333" stroke-width="1.5"/>
<line x1="923.97" y1="862.5" x2="923.97" y2="866" stroke="#333" stroke-width="1.5"/>
<line x1="956.89" y1="862.5" x2="956.89" y2="869" stroke="#333" stroke-width="1.5"/>
<line x1="989.8" y1="862.5" x2="989.8" y2="866" stroke="#333" stroke-width="1.5"/>
<line x1="1022.71" y1="862.5" x2="1022.71" y2="869" stroke="#333" stroke-width="1.5"/>
<line x1="1055.63" y1="862.5" x2="1055.63" y2="866" stroke="#333" stroke-width="1.5"/>
<line x1="1088.54" y1="862.5" x2="1088.54" y2="869" stroke="#333" stroke-width="1.5"/>
<line x1="1121.46" y1="862.5" x2="1121.46" y2="866" stroke="#333" stroke-width="1.5"/>
<line x1="1154.37" y1="862.5" x2="1154.37" y2="869" stroke="#333" stroke-width="1.5"/>
<line x1="1187.29" y1="862.5" x2="1187.29" y2="866" stroke="#333" stroke-width="1.5"/>
<line x1="1220.2" y1="862.5" x2="1220.2" y2="869" stroke="#333" stroke-width="1.5"/>
<text x="759.4" y="883.2" font-size="14" text-anchor="middle" letter-spacing="0.35" fill="#1a1a1a" stroke="#1a1a1a" stroke-width="0.25">4000</text>
<text x="825.23" y="883.2" font-size="14" text-anchor="middle" letter-spacing="0.35" fill="#1a1a1a" stroke="#1a1a1a" stroke-width="0.25">3500</text>
<text x="891.06" y="883.2" font-size="14" text-anchor="middle" letter-spacing="0.35" fill="#1a1a1a" stroke="#1a1a1a" stroke-width="0.25">3000</text>
<text x="956.89" y="883.2" font-size="14" text-anchor="middle" letter-spacing="0.35" fill="#1a1a1a" stroke="#1a1a1a" stroke-width="0.25">2500</text>
<text x="1022.71" y="883.2" font-size="14" text-anchor="middle" letter-spacing="0.35" fill="#1a1a1a" stroke="#1a1a1a" stroke-width="0.25">2000</text>
<text x="1088.54" y="883.2" font-size="14" text-anchor="middle" letter-spacing="0.35" fill="#1a1a1a" stroke="#1a1a1a" stroke-width="0.25">1500</text>
<text x="1154.37" y="883.2" font-size="14" text-anchor="middle" letter-spacing="0.35" fill="#1a1a1a" stroke="#1a1a1a" stroke-width="0.25">1000</text>
<text x="1220.2" y="883.2" font-size="14" text-anchor="middle" letter-spacing="0.35" fill="#1a1a1a" stroke="#1a1a1a" stroke-width="0.25">500</text>
<text transform="translate(911.9,905.8) scale(1.078,1)" font-size="16.4" fill="#1a1a1a">Wavenumber (Cm<tspan font-size="9.84" dy="-7.8">-1</tspan><tspan dy="7.8">)</tspan></text>
<text transform="translate(741.5,769.03) rotate(-90) scale(1.0142,1)" font-size="17" fill="#1a1a1a">Absorption intensity</text>
<line x1="855.15" y1="863.4" x2="855.15" y2="527" stroke="#111" stroke-width="1.9" stroke-dasharray="7.9 7.97"/>
<text transform="translate(860.12,524.66) rotate(-90) scale(1.0160,0.9652)" font-size="12" fill="#222">3272.77</text>
<line x1="1070.51" y1="863.4" x2="1070.51" y2="527" stroke="#111" stroke-width="1.9" stroke-dasharray="7.9 7.97"/>
<text transform="translate(1075.51,525.14) rotate(-90) scale(1.0270,0.9534)" font-size="12" fill="#222">1636.97</text>
<text transform="translate(872.58,495.5) scale(1.0398,1.0000)" font-size="15.3" font-weight="bold" fill="#7a5030">Whole ATR-FTIR spectra</text>
<text transform="translate(907.29,520.4) scale(1.0279,1.0000)" font-size="15.3" font-weight="bold" fill="#7a5030">of Saliva (40%)</text>
<text transform="translate(907.51,545.4) scale(1.0298,1.0000)" font-size="15.3" font-weight="bold" fill="#7a5030">(up to 16 min)</text>
<text transform="translate(1255.92,532.23) scale(0.9902,1.0156)" font-size="46" font-weight="bold" fill="#000">e</text>
<rect x="1240.6" y="578.8" width="68.4" height="194.2" fill="#fff" stroke="#8a8a8a" stroke-width="1.3"/>
<text x="1275.6" y="575.5" font-size="17.3" text-anchor="middle" fill="#1a1a1a">Min</text>
<line x1="1242.2" y1="591.3" x2="1283" y2="591.3" stroke="#802828" stroke-width="2.2"/>
<text x="1287.3" y="597.24" font-size="16.5" fill="#1a1a1a" stroke="#1a1a1a" stroke-width="0.3">16</text>
<line x1="1242.2" y1="612.5" x2="1283" y2="612.5" stroke="#8a3490" stroke-width="2.2"/>
<text x="1287.3" y="618.44" font-size="16.5" fill="#1a1a1a" stroke="#1a1a1a" stroke-width="0.3">14</text>
<line x1="1242.2" y1="633.7" x2="1283" y2="633.7" stroke="#9a3cf0" stroke-width="2.2"/>
<text x="1287.3" y="639.64" font-size="16.5" fill="#1a1a1a" stroke="#1a1a1a" stroke-width="0.3">12</text>
<line x1="1242.2" y1="654.9" x2="1283" y2="654.9" stroke="#1c1c84" stroke-width="2.2"/>
<text x="1287.3" y="660.84" font-size="16.5" fill="#1a1a1a" stroke="#1a1a1a" stroke-width="0.3">10</text>
<line x1="1242.2" y1="676.1" x2="1283" y2="676.1" stroke="#2c942c" stroke-width="2.2"/>
<text x="1287.3" y="682.04" font-size="16.5" fill="#1a1a1a" stroke="#1a1a1a" stroke-width="0.3">8</text>
<line x1="1242.2" y1="697.3" x2="1283" y2="697.3" stroke="#f03cf0" stroke-width="2.2"/>
<text x="1287.3" y="703.24" font-size="16.5" fill="#1a1a1a" stroke="#1a1a1a" stroke-width="0.3">6</text>
<line x1="1242.2" y1="718.5" x2="1283" y2="718.5" stroke="#3030d8" stroke-width="2.2"/>
<text x="1287.3" y="724.44" font-size="16.5" fill="#1a1a1a" stroke="#1a1a1a" stroke-width="0.3">4</text>
<line x1="1242.2" y1="739.7" x2="1283" y2="739.7" stroke="#e3302f" stroke-width="2.2"/>
<text x="1287.3" y="745.64" font-size="16.5" fill="#1a1a1a" stroke="#1a1a1a" stroke-width="0.3">2</text>
<line x1="1242.2" y1="760.9" x2="1283" y2="760.9" stroke="#1e1e1e" stroke-width="2.2"/>
<text x="1287.3" y="766.84" font-size="16.5" fill="#1a1a1a" stroke="#1a1a1a" stroke-width="0.3">0</text>
<line x1="1347" y1="470.3" x2="1995" y2="470.3" stroke="#cfcfcf" stroke-width="1.8"/>
<line x1="1347" y1="470" x2="1347" y2="916" stroke="#8c8c8c" stroke-width="1.6"/>
<line x1="1995" y1="470" x2="1995" y2="916" stroke="#585858" stroke-width="1.8"/>
<line x1="1347" y1="916" x2="1995" y2="916" stroke="#b4b4b4" stroke-width="1.8"/>
<path d="M1428.8,843.1 1468.4,843.1 1469.4,843.0 1478.9,840.9 1483.9,839.6 1488.2,838.4 1497.4,835.2 1501.0,833.8 1506.6,831.3 1511.2,829.8 1513.6,829.3 1517.2,828.8 1524.4,828.6 1530.0,828.8 1532.7,829.2 1534.3,829.7 1538.3,831.2 1541.3,832.7 1545.5,835.0 1552.8,838.2 1555.1,839.0 1558.7,840.0 1563.0,840.9 1569.0,841.8 1572.3,842.1 1580.5,842.5 1588.1,842.8 1598.0,842.9 1631.3,843.1 1652.7,843.1 1675.8,842.8 1704.8,843.0 1717.4,843.0 1725.3,842.8 1730.2,842.4 1731.9,842.1 1733.5,841.5 1734.8,840.9 1736.2,840.0 1739.8,836.7 1740.4,836.4 1741.1,836.4 1742.1,836.7 1745.4,838.9 1747.7,839.9 1749.0,840.3 1750.7,840.7 1754.3,841.0 1761.2,841.2 1774.1,841.3 1823.2,841.4 1826.5,841.3 1829.5,841.1 1832.5,840.7 1836.1,839.8 1838.7,839.0 1843.7,837.3 1864.4,829.2 1871.7,826.3 1876.6,824.6 1879.9,823.7 1882.6,823.1 1886.9,822.3 1890.5,821.9" fill="none" stroke="#1e1e1e" stroke-width="1.9" stroke-linejoin="round"/>
<path d="M1428.8,819.4 1468.4,819.4 1469.4,819.3 1478.9,817.3 1483.9,816.0 1488.2,814.7 1497.4,811.6 1501.0,810.2 1506.6,807.6 1511.2,806.2 1513.6,805.7 1517.2,805.2 1524.4,805.0 1530.0,805.2 1532.7,805.6 1534.3,806.1 1538.3,807.6 1541.3,809.0 1545.5,811.4 1552.8,814.5 1555.1,815.3 1558.7,816.3 1563.0,817.2 1569.0,818.1 1572.3,818.4 1580.5,818.8 1588.1,819.1 1598.0,819.2 1631.3,819.4 1652.7,819.4 1675.8,819.1 1704.8,819.3 1717.4,819.3 1725.3,819.1 1730.2,818.7 1731.9,818.4 1733.5,817.8 1734.8,817.2 1736.2,816.3 1739.8,813.1 1740.4,812.7 1741.1,812.7 1742.1,813.0 1745.4,815.2 1747.7,816.3 1749.0,816.7 1750.7,817.0 1754.3,817.3 1761.2,817.6 1774.1,817.7 1823.2,817.7 1826.5,817.6 1829.5,817.4 1832.5,817.0 1836.1,816.2 1838.7,815.4 1843.7,813.6 1864.4,805.5 1871.7,802.6 1876.6,800.9 1879.9,800.0 1882.6,799.4 1886.9,798.6 1890.5,798.2" fill="none" stroke="#e3302f" stroke-width="1.9" stroke-linejoin="round"/>
<path d="M1428.8,795.7 1468.4,795.7 1469.4,795.6 1478.9,793.6 1483.9,792.3 1488.2,791.0 1497.4,787.9 1501.0,786.5 1506.6,784.0 1511.2,782.5 1513.6,782.0 1517.2,781.5 1524.4,781.3 1530.0,781.6 1532.7,782.0 1534.3,782.4 1538.3,783.9 1541.3,785.4 1545.5,787.7 1552.8,790.8 1555.1,791.6 1558.7,792.6 1563.0,793.5 1569.0,794.4 1572.3,794.7 1580.5,795.2 1588.1,795.4 1598.0,795.6 1631.3,795.7 1652.7,795.7 1675.8,795.4 1704.8,795.7 1717.4,795.6 1725.3,795.4 1730.2,795.0 1731.9,794.7 1733.5,794.2 1734.8,793.5 1736.2,792.6 1739.8,789.4 1740.4,789.1 1741.1,789.0 1742.1,789.3 1745.4,791.5 1747.7,792.6 1749.0,793.0 1750.7,793.3 1754.3,793.7 1761.2,793.9 1774.1,794.0 1823.2,794.0 1826.5,793.9 1829.5,793.7 1832.5,793.3 1836.1,792.5 1838.7,791.7 1843.7,789.9 1864.4,781.8 1871.7,778.9 1876.6,777.2 1879.9,776.3 1882.6,775.7 1886.9,775.0 1890.5,774.5" fill="none" stroke="#3030d8" stroke-width="1.9" stroke-linejoin="round"/>
<path d="M1428.8,772.1 1468.4,772.1 1469.4,772.0 1478.9,769.9 1483.9,768.6 1488.2,767.4 1497.4,764.3 1501.0,762.9 1506.6,760.3 1511.2,758.9 1513.6,758.4 1517.2,757.9 1524.4,757.7 1530.0,757.9 1532.7,758.3 1534.3,758.8 1538.3,760.3 1541.3,761.7 1545.5,764.1 1552.8,767.2 1555.1,768.0 1558.7,769.0 1563.0,769.9 1569.0,770.7 1572.3,771.0 1580.5,771.5 1588.1,771.7 1598.0,771.9 1631.3,772.0 1652.7,772.0 1675.8,771.7 1704.8,772.0 1717.4,771.9 1725.3,771.8 1730.2,771.4 1731.9,771.0 1733.5,770.5 1734.8,769.8 1736.2,768.9 1739.8,765.7 1740.4,765.4 1741.1,765.3 1742.1,765.6 1745.4,767.8 1747.7,768.9 1749.0,769.3 1750.7,769.6 1754.3,770.0 1761.2,770.2 1774.1,770.3 1823.2,770.3 1826.5,770.3 1829.5,770.1 1832.5,769.7 1836.1,768.8 1838.7,768.0 1843.7,766.2 1864.4,758.1 1871.7,755.2 1876.6,753.6 1879.9,752.6 1882.6,752.0 1886.9,751.3 1890.5,750.9" fill="none" stroke="#f03cf0" stroke-width="1.9" stroke-linejoin="round"/>
<path d="M1428.8,748.4 1468.4,748.4 1469.4,748.3 1478.9,746.2 1483.9,745.0 1488.2,743.7 1497.4,740.6 1501.0,739.2 1506.6,736.7 1511.2,735.3 1513.6,734.8 1517.2,734.3 1524.4,734.1 1530.0,734.3 1532.7,734.7 1534.3,735.2 1538.3,736.7 1541.3,738.1 1545.5,740.4 1552.8,743.5 1555.1,744.3 1558.7,745.3 1563.0,746.2 1569.0,747.1 1572.3,747.4 1580.5,747.8 1588.1,748.0 1598.0,748.2 1631.3,748.4 1652.7,748.3 1675.8,748.1 1704.8,748.3 1717.4,748.2 1725.3,748.1 1730.2,747.7 1731.9,747.4 1733.5,746.8 1734.8,746.2 1736.2,745.3 1739.8,742.0 1740.4,741.7 1741.1,741.6 1742.1,742.0 1745.4,744.1 1747.7,745.2 1749.0,745.6 1750.7,745.9 1754.3,746.3 1761.2,746.5 1774.1,746.6 1823.2,746.7 1826.5,746.6 1829.5,746.4 1832.5,746.0 1836.1,745.1 1838.7,744.3 1843.7,742.5 1864.4,734.5 1871.7,731.5 1876.6,729.9 1879.9,728.9 1882.6,728.3 1886.9,727.6 1890.5,727.2" fill="none" stroke="#2c942c" stroke-width="1.9" stroke-linejoin="round"/>
<path d="M1428.8,724.7 1468.4,724.7 1469.4,724.6 1478.9,722.6 1483.9,721.3 1488.2,720.0 1497.4,716.9 1501.0,715.6 1506.6,713.0 1511.2,711.6 1513.6,711.1 1517.2,710.6 1524.4,710.4 1530.0,710.7 1532.7,711.1 1534.3,711.5 1538.3,713.0 1541.3,714.4 1545.5,716.8 1552.8,719.8 1555.1,720.6 1558.7,721.6 1563.0,722.5 1569.0,723.4 1572.3,723.7 1580.5,724.1 1588.1,724.4 1598.0,724.5 1631.3,724.7 1652.7,724.7 1675.8,724.4 1704.8,724.6 1717.4,724.6 1725.3,724.4 1730.2,724.0 1731.9,723.7 1733.5,723.1 1734.8,722.5 1736.2,721.6 1739.8,718.3 1740.4,718.0 1741.1,718.0 1742.1,718.3 1745.4,720.5 1747.7,721.5 1749.0,721.9 1750.7,722.3 1754.3,722.6 1761.2,722.8 1774.1,722.9 1823.2,723.0 1826.5,722.9 1829.5,722.7 1832.5,722.3 1836.1,721.4 1838.7,720.6 1843.7,718.9 1864.4,710.8 1871.7,707.9 1876.6,706.2 1879.9,705.3 1882.6,704.7 1886.9,703.9 1890.5,703.5" fill="none" stroke="#1c1c84" stroke-width="1.9" stroke-linejoin="round"/>
<path d="M1428.8,701.0 1468.4,701.0 1469.4,700.9 1478.9,698.9 1483.9,697.6 1488.2,696.4 1497.4,693.3 1501.0,691.9 1506.6,689.4 1511.2,688.0 1513.6,687.5 1517.2,687.0 1524.4,686.8 1530.0,687.0 1532.7,687.4 1534.3,687.9 1538.3,689.4 1541.3,690.8 1545.5,693.1 1552.8,696.2 1555.1,697.0 1558.7,698.0 1563.0,698.9 1569.0,699.7 1572.3,700.0 1580.5,700.5 1588.1,700.7 1598.0,700.8 1631.3,701.0 1652.7,701.0 1675.8,700.7 1704.8,700.9 1717.4,700.9 1725.3,700.7 1730.2,700.3 1731.9,700.0 1733.5,699.4 1734.8,698.8 1736.2,697.9 1739.8,694.7 1740.4,694.3 1741.1,694.3 1742.1,694.6 1745.4,696.8 1747.7,697.9 1749.0,698.3 1750.7,698.6 1754.3,698.9 1761.2,699.2 1774.1,699.3 1823.2,699.3 1826.5,699.2 1829.5,699.0 1832.5,698.6 1836.1,697.8 1838.7,697.0 1843.7,695.2 1864.4,687.1 1871.7,684.2 1876.6,682.5 1879.9,681.6 1882.6,681.0 1886.9,680.2 1890.5,679.8" fill="none" stroke="#9a3cf0" stroke-width="1.9" stroke-linejoin="round"/>
<path d="M1428.8,677.3 1468.4,677.3 1469.4,677.2 1478.9,675.2 1483.9,674.0 1488.2,672.7 1497.4,669.6 1501.0,668.3 1506.6,665.8 1511.2,664.3 1513.6,663.8 1517.2,663.4 1524.4,663.2 1530.0,663.4 1532.7,663.8 1534.3,664.2 1538.3,665.7 1541.3,667.1 1545.5,669.5 1552.8,672.5 1555.1,673.3 1558.7,674.3 1563.0,675.2 1569.0,676.0 1572.3,676.3 1580.5,676.8 1588.1,677.0 1598.0,677.2 1631.3,677.3 1652.7,677.3 1675.8,677.0 1704.8,677.3 1717.4,677.2 1725.3,677.0 1730.2,676.6 1731.9,676.3 1733.5,675.8 1734.8,675.1 1736.2,674.2 1739.8,671.0 1740.4,670.7 1741.1,670.6 1742.1,670.9 1745.4,673.1 1747.7,674.2 1749.0,674.6 1750.7,674.9 1754.3,675.3 1761.2,675.5 1774.1,675.6 1823.2,675.6 1826.5,675.5 1829.5,675.3 1832.5,674.9 1836.1,674.1 1838.7,673.3 1843.7,671.5 1864.4,663.4 1871.7,660.5 1876.6,658.8 1879.9,657.9 1882.6,657.3 1886.9,656.6 1890.5,656.1" fill="none" stroke="#8a3490" stroke-width="1.9" stroke-linejoin="round"/>
<path d="M1428.8,653.7 1468.4,653.7 1469.4,653.6 1478.9,651.5 1483.9,650.3 1488.2,649.0 1497.4,646.0 1501.0,644.6 1506.6,642.1 1511.2,640.7 1513.6,640.2 1517.2,639.7 1524.4,639.5 1530.0,639.7 1532.7,640.2 1534.3,640.6 1538.3,642.1 1541.3,643.5 1545.5,645.8 1552.8,648.8 1555.1,649.6 1558.7,650.6 1563.0,651.5 1569.0,652.4 1572.3,652.7 1580.5,653.1 1588.1,653.3 1598.0,653.5 1631.6,653.6 1652.7,653.6 1675.5,653.3 1705.2,653.6 1717.7,653.5 1725.3,653.4 1730.2,653.0 1731.9,652.6 1733.5,652.1 1734.8,651.4 1736.2,650.5 1739.8,647.3 1740.4,647.0 1741.1,646.9 1742.1,647.2 1745.4,649.4 1747.7,650.5 1749.0,650.9 1750.7,651.2 1754.3,651.6 1761.2,651.8 1774.1,651.9 1823.2,651.9 1826.5,651.9 1829.5,651.7 1832.5,651.3 1836.1,650.4 1838.7,649.6 1843.7,647.8 1864.4,639.7 1871.7,636.8 1876.6,635.2 1879.9,634.2 1882.6,633.6 1886.9,632.9 1890.5,632.5" fill="none" stroke="#802828" stroke-width="1.9" stroke-linejoin="round"/>
<path d="M1428.8,630.0 1468.4,630.0 1469.4,629.9 1478.9,627.9 1483.9,626.6 1488.2,625.4 1497.4,622.3 1501.0,620.9 1506.6,618.5 1511.2,617.1 1513.6,616.6 1517.2,616.1 1524.4,615.9 1530.0,616.1 1532.7,616.5 1534.3,617.0 1538.3,618.4 1541.3,619.9 1545.5,622.1 1552.8,625.2 1555.1,626.0 1558.7,627.0 1563.0,627.8 1569.3,628.7 1572.9,629.0 1580.8,629.4 1598.3,629.8 1631.9,630.0 1652.7,629.9 1675.5,629.7 1705.2,629.9 1717.7,629.8 1725.3,629.7 1730.2,629.3 1731.9,629.0 1733.5,628.4 1734.8,627.8 1736.2,626.9 1739.8,623.6 1740.4,623.3 1741.1,623.2 1742.1,623.6 1745.4,625.7 1747.7,626.8 1749.0,627.2 1750.7,627.5 1754.3,627.9 1761.2,628.1 1774.1,628.2 1823.2,628.3 1826.5,628.2 1829.5,628.0 1832.5,627.6 1836.1,626.7 1838.7,625.9 1843.7,624.1 1864.4,616.1 1871.7,613.1 1876.6,611.5 1879.9,610.5 1882.6,609.9 1886.9,609.2 1890.5,608.8" fill="none" stroke="#a6a63a" stroke-width="1.9" stroke-linejoin="round"/>
<path d="M1428.8,606.3 1468.4,606.3 1469.4,606.2 1478.9,604.2 1483.9,603.0 1488.2,601.7 1497.4,598.7 1501.0,597.3 1506.6,594.8 1511.2,593.4 1513.6,592.9 1517.2,592.5 1524.4,592.3 1530.0,592.5 1532.7,592.9 1534.3,593.3 1538.3,594.8 1541.3,596.2 1545.5,598.5 1552.8,601.5 1555.1,602.3 1558.7,603.3 1563.0,604.2 1569.3,605.0 1572.9,605.4 1580.8,605.8 1598.3,606.1 1631.9,606.3 1653.1,606.2 1675.5,606.0 1705.2,606.2 1717.7,606.2 1725.3,606.0 1730.2,605.6 1731.9,605.3 1733.5,604.7 1734.8,604.1 1736.2,603.2 1739.8,599.9 1740.4,599.6 1741.1,599.6 1742.1,599.9 1745.4,602.1 1747.7,603.1 1749.0,603.5 1750.7,603.9 1754.3,604.2 1761.2,604.4 1774.1,604.5 1823.2,604.6 1826.5,604.5 1829.5,604.3 1832.5,603.9 1836.1,603.0 1838.7,602.2 1843.7,600.5 1864.4,592.4 1871.7,589.5 1876.6,587.8 1879.9,586.9 1882.6,586.3 1886.9,585.5 1890.5,585.1" fill="none" stroke="#4a7cbc" stroke-width="1.9" stroke-linejoin="round"/>
<path d="M1428.8,582.6 1468.4,582.6 1469.4,582.5 1478.9,580.5 1483.9,579.3 1488.2,578.0 1497.4,575.0 1501.0,573.6 1506.6,571.2 1511.2,569.8 1513.6,569.3 1517.2,568.8 1524.4,568.6 1530.0,568.8 1532.7,569.2 1534.3,569.7 1538.3,571.2 1541.3,572.6 1545.5,574.8 1552.8,577.8 1555.1,578.6 1558.7,579.6 1563.0,580.5 1569.3,581.4 1572.9,581.7 1580.8,582.1 1598.3,582.4 1631.9,582.6 1653.1,582.6 1675.5,582.3 1705.2,582.5 1717.7,582.5 1725.3,582.3 1730.2,581.9 1731.9,581.6 1733.5,581.0 1734.8,580.4 1736.2,579.5 1739.8,576.3 1740.4,575.9 1741.1,575.9 1742.1,576.2 1745.4,578.4 1747.7,579.5 1749.0,579.9 1750.7,580.2 1754.3,580.5 1761.2,580.8 1774.1,580.9 1823.2,580.9 1826.5,580.8 1829.5,580.6 1832.5,580.2 1836.1,579.4 1838.7,578.6 1843.7,576.8 1864.4,568.7 1871.7,565.8 1876.6,564.1 1879.9,563.2 1882.6,562.6 1886.9,561.8 1890.5,561.4" fill="none" stroke="#48a0a4" stroke-width="1.9" stroke-linejoin="round"/>
<line x1="1428.8" y1="520.4" x2="1428.8" y2="860.5" stroke="#333" stroke-width="1.7"/>
<line x1="1428" y1="854" x2="1891.3" y2="854" stroke="#333" stroke-width="1.7"/>
<line x1="1428.8" y1="854" x2="1428.8" y2="860.5" stroke="#333" stroke-width="1.5"/>
<line x1="1461.78" y1="854" x2="1461.78" y2="857.5" stroke="#333" stroke-width="1.5"/>
<line x1="1494.76" y1="854" x2="1494.76" y2="860.5" stroke="#333" stroke-width="1.5"/>
<line x1="1527.74" y1="854" x2="1527.74" y2="857.5" stroke="#333" stroke-width="1.5"/>
<line x1="1560.71" y1="854" x2="1560.71" y2="860.5" stroke="#333" stroke-width="1.5"/>
<line x1="1593.69" y1="854" x2="1593.69" y2="857.5" stroke="#333" stroke-width="1.5"/>
<line x1="1626.67" y1="854" x2="1626.67" y2="860.5" stroke="#333" stroke-width="1.5"/>
<line x1="1659.65" y1="854" x2="1659.65" y2="857.5" stroke="#333" stroke-width="1.5"/>
<line x1="1692.63" y1="854" x2="1692.63" y2="860.5" stroke="#333" stroke-width="1.5"/>
<line x1="1725.61" y1="854" x2="1725.61" y2="857.5" stroke="#333" stroke-width="1.5"/>
<line x1="1758.59" y1="854" x2="1758.59" y2="860.5" stroke="#333" stroke-width="1.5"/>
<line x1="1791.56" y1="854" x2="1791.56" y2="857.5" stroke="#333" stroke-width="1.5"/>
<line x1="1824.54" y1="854" x2="1824.54" y2="860.5" stroke="#333" stroke-width="1.5"/>
<line x1="1857.52" y1="854" x2="1857.52" y2="857.5" stroke="#333" stroke-width="1.5"/>
<line x1="1890.5" y1="854" x2="1890.5" y2="860.5" stroke="#333" stroke-width="1.5"/>
<text x="1428.8" y="876.2" font-size="14" text-anchor="middle" letter-spacing="0.35" fill="#1a1a1a" stroke="#1a1a1a" stroke-width="0.25">4000</text>
<text x="1494.76" y="876.2" font-size="14" text-anchor="middle" letter-spacing="0.35" fill="#1a1a1a" stroke="#1a1a1a" stroke-width="0.25">3500</text>
<text x="1560.71" y="876.2" font-size="14" text-anchor="middle" letter-spacing="0.35" fill="#1a1a1a" stroke="#1a1a1a" stroke-width="0.25">3000</text>
<text x="1626.67" y="876.2" font-size="14" text-anchor="middle" letter-spacing="0.35" fill="#1a1a1a" stroke="#1a1a1a" stroke-width="0.25">2500</text>
<text x="1692.63" y="876.2" font-size="14" text-anchor="middle" letter-spacing="0.35" fill="#1a1a1a" stroke="#1a1a1a" stroke-width="0.25">2000</text>
<text x="1758.59" y="876.2" font-size="14" text-anchor="middle" letter-spacing="0.35" fill="#1a1a1a" stroke="#1a1a1a" stroke-width="0.25">1500</text>
<text x="1824.54" y="876.2" font-size="14" text-anchor="middle" letter-spacing="0.35" fill="#1a1a1a" stroke="#1a1a1a" stroke-width="0.25">1000</text>
<text x="1890.5" y="876.2" font-size="14" text-anchor="middle" letter-spacing="0.35" fill="#1a1a1a" stroke="#1a1a1a" stroke-width="0.25">500</text>
<text transform="translate(1589.9,899.1) scale(1.078,1)" font-size="16.4" fill="#1a1a1a">Wavenumber (Cm<tspan font-size="9.84" dy="-7.8">-1</tspan><tspan dy="7.8">)</tspan></text>
<text transform="translate(1414.4,768.04) rotate(-90) scale(1.0385,1)" font-size="17" fill="#1a1a1a">Absorption intensity</text>
<line x1="1524.73" y1="854.9" x2="1524.73" y2="520" stroke="#111" stroke-width="1.9" stroke-dasharray="7.9 7.97"/>
<text transform="translate(1530.72,517.77) rotate(-90) scale(1.0301,1.0358)" font-size="12" fill="#222">3272.77</text>
<line x1="1740.52" y1="854.9" x2="1740.52" y2="520" stroke="#111" stroke-width="1.9" stroke-dasharray="7.9 7.97"/>
<text transform="translate(1746.81,518.25) rotate(-90) scale(1.0414,0.8828)" font-size="12" fill="#222">1636.97</text>
<text transform="translate(1540.48,504.3) scale(1.0409,1.0000)" font-size="15.3" font-weight="bold" fill="#7a5030">Whole ATR-FTIR spectra</text>
<text transform="translate(1584.08,529.8) scale(1.0374,1.0000)" font-size="15.3" font-weight="bold" fill="#7a5030">of Urine (40%)</text>
<text transform="translate(1580.21,555.3) scale(1.0338,1.0000)" font-size="15.3" font-weight="bold" fill="#7a5030">(up to 22 min)</text>
<text transform="translate(1916.96,531.1) scale(1.0733,1.0285)" font-size="46" font-weight="bold" fill="#000">f</text>
<rect x="1902.8" y="563" width="67.6" height="257.3" fill="#fff" stroke="#8a8a8a" stroke-width="1.3"/>
<text x="1940.3" y="560.4" font-size="17.3" text-anchor="middle" fill="#1a1a1a">Min</text>
<line x1="1904.4" y1="575.1" x2="1944.9" y2="575.1" stroke="#48a0a4" stroke-width="2.2"/>
<text x="1948.8" y="581.04" font-size="16.5" fill="#1a1a1a" stroke="#1a1a1a" stroke-width="0.3">22</text>
<line x1="1904.4" y1="596.3" x2="1944.9" y2="596.3" stroke="#4a7cbc" stroke-width="2.2"/>
<text x="1948.8" y="602.24" font-size="16.5" fill="#1a1a1a" stroke="#1a1a1a" stroke-width="0.3">20</text>
<line x1="1904.4" y1="617.5" x2="1944.9" y2="617.5" stroke="#a6a63a" stroke-width="2.2"/>
<text x="1948.8" y="623.44" font-size="16.5" fill="#1a1a1a" stroke="#1a1a1a" stroke-width="0.3">18</text>
<line x1="1904.4" y1="638.7" x2="1944.9" y2="638.7" stroke="#802828" stroke-width="2.2"/>
<text x="1948.8" y="644.64" font-size="16.5" fill="#1a1a1a" stroke="#1a1a1a" stroke-width="0.3">16</text>
<line x1="1904.4" y1="659.9" x2="1944.9" y2="659.9" stroke="#8a3490" stroke-width="2.2"/>
<text x="1948.8" y="665.84" font-size="16.5" fill="#1a1a1a" stroke="#1a1a1a" stroke-width="0.3">14</text>
<line x1="1904.4" y1="681.1" x2="1944.9" y2="681.1" stroke="#9a3cf0" stroke-width="2.2"/>
<text x="1948.8" y="687.04" font-size="16.5" fill="#1a1a1a" stroke="#1a1a1a" stroke-width="0.3">12</text>
<line x1="1904.4" y1="702.3" x2="1944.9" y2="702.3" stroke="#1c1c84" stroke-width="2.2"/>
<text x="1948.8" y="708.24" font-size="16.5" fill="#1a1a1a" stroke="#1a1a1a" stroke-width="0.3">10</text>
<line x1="1904.4" y1="723.5" x2="1944.9" y2="723.5" stroke="#2c942c" stroke-width="2.2"/>
<text x="1948.8" y="729.44" font-size="16.5" fill="#1a1a1a" stroke="#1a1a1a" stroke-width="0.3">8</text>
<line x1="1904.4" y1="744.7" x2="1944.9" y2="744.7" stroke="#f03cf0" stroke-width="2.2"/>
<text x="1948.8" y="750.64" font-size="16.5" fill="#1a1a1a" stroke="#1a1a1a" stroke-width="0.3">6</text>
<line x1="1904.4" y1="765.9" x2="1944.9" y2="765.9" stroke="#3030d8" stroke-width="2.2"/>
<text x="1948.8" y="771.84" font-size="16.5" fill="#1a1a1a" stroke="#1a1a1a" stroke-width="0.3">4</text>
<line x1="1904.4" y1="787.1" x2="1944.9" y2="787.1" stroke="#e3302f" stroke-width="2.2"/>
<text x="1948.8" y="793.04" font-size="16.5" fill="#1a1a1a" stroke="#1a1a1a" stroke-width="0.3">2</text>
<line x1="1904.4" y1="808.3" x2="1944.9" y2="808.3" stroke="#1e1e1e" stroke-width="2.2"/>
<text x="1948.8" y="814.24" font-size="16.5" fill="#1a1a1a" stroke="#1a1a1a" stroke-width="0.3">0</text>
</svg>
</body></html>
